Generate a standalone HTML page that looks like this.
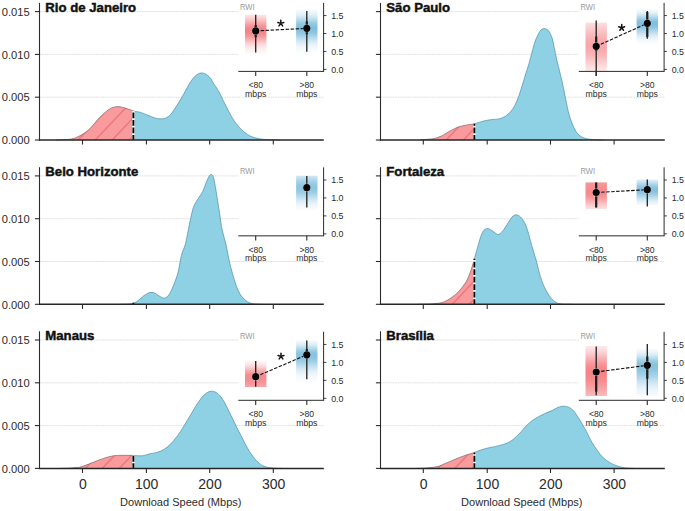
<!DOCTYPE html>
<html><head><meta charset="utf-8"><style>
html,body{margin:0;padding:0;background:#fff;width:685px;height:511px;overflow:hidden}
svg{display:block}
text{font-family:"Liberation Sans",sans-serif}
</style></head><body>
<svg width="685" height="511" viewBox="0 0 685 511">
<defs><clipPath id="crp00"><rect x="0" y="0" width="133.38" height="600"/></clipPath>
<clipPath id="cap00"><path d="M56.00,140.00 C57.17,139.96 60.67,139.88 63.00,139.75 C65.33,139.62 67.87,139.54 70.00,139.20 C72.13,138.86 73.87,138.43 75.80,137.70 C77.73,136.97 79.68,135.92 81.60,134.80 C83.52,133.68 85.53,132.43 87.30,131.00 C89.07,129.57 90.58,127.97 92.20,126.20 C93.82,124.43 95.40,122.17 97.00,120.40 C98.60,118.63 100.20,117.13 101.80,115.60 C103.40,114.07 105.00,112.48 106.60,111.20 C108.20,109.92 109.80,108.65 111.40,107.90 C113.00,107.15 114.58,106.87 116.20,106.70 C117.82,106.53 119.48,106.63 121.10,106.90 C122.72,107.17 124.13,107.73 125.90,108.30 C127.67,108.87 130.02,109.77 131.70,110.30 C133.38,110.83 134.62,111.18 136.00,111.50 C137.38,111.82 138.10,111.62 140.00,112.20 C141.90,112.78 144.92,114.03 147.40,115.00 C149.88,115.97 152.80,117.37 154.90,118.00 C157.00,118.63 158.27,118.77 160.00,118.80 C161.73,118.83 163.53,118.92 165.30,118.20 C167.07,117.48 168.85,116.35 170.60,114.50 C172.35,112.65 174.05,109.75 175.80,107.10 C177.55,104.45 179.33,101.60 181.10,98.60 C182.87,95.60 184.82,91.92 186.40,89.10 C187.98,86.28 189.20,83.82 190.60,81.70 C192.00,79.58 193.53,77.70 194.80,76.40 C196.07,75.10 197.10,74.48 198.20,73.90 C199.30,73.32 200.35,72.97 201.40,72.90 C202.45,72.83 203.48,73.10 204.50,73.50 C205.52,73.90 206.42,74.42 207.50,75.30 C208.58,76.18 210.05,77.53 211.00,78.80 C211.95,80.07 211.95,80.88 213.20,82.90 C214.45,84.92 216.75,87.82 218.50,90.90 C220.25,93.98 221.95,97.90 223.70,101.40 C225.45,104.90 227.25,108.65 229.00,111.90 C230.75,115.15 232.45,118.30 234.20,120.90 C235.95,123.50 237.75,125.57 239.50,127.50 C241.25,129.43 242.95,131.10 244.70,132.50 C246.45,133.90 248.25,135.02 250.00,135.90 C251.75,136.78 253.20,137.25 255.20,137.80 C257.20,138.35 259.53,138.87 262.00,139.20 C264.47,139.53 267.00,139.67 270.00,139.80 C273.00,139.93 278.33,139.97 280.00,140.00 L280.00,140.00 L56.00,140.00 Z"/></clipPath>
<clipPath id="cbp00"><rect x="133.38" y="0" width="700" height="600"/></clipPath>
<linearGradient id="gp00red" x1="0" y1="0" x2="0" y2="1"><stop offset="0.000" stop-color="#f36e73" stop-opacity="0.172"/><stop offset="0.042" stop-color="#f36e73" stop-opacity="0.234"/><stop offset="0.083" stop-color="#f36e73" stop-opacity="0.308"/><stop offset="0.125" stop-color="#f36e73" stop-opacity="0.392"/><stop offset="0.167" stop-color="#f36e73" stop-opacity="0.483"/><stop offset="0.208" stop-color="#f36e73" stop-opacity="0.576"/><stop offset="0.250" stop-color="#f36e73" stop-opacity="0.665"/><stop offset="0.292" stop-color="#f36e73" stop-opacity="0.743"/><stop offset="0.333" stop-color="#f36e73" stop-opacity="0.803"/><stop offset="0.375" stop-color="#f36e73" stop-opacity="0.840"/><stop offset="0.417" stop-color="#f36e73" stop-opacity="0.850"/><stop offset="0.458" stop-color="#f36e73" stop-opacity="0.832"/><stop offset="0.500" stop-color="#f36e73" stop-opacity="0.788"/><stop offset="0.542" stop-color="#f36e73" stop-opacity="0.722"/><stop offset="0.583" stop-color="#f36e73" stop-opacity="0.641"/><stop offset="0.625" stop-color="#f36e73" stop-opacity="0.550"/><stop offset="0.667" stop-color="#f36e73" stop-opacity="0.457"/><stop offset="0.708" stop-color="#f36e73" stop-opacity="0.367"/><stop offset="0.750" stop-color="#f36e73" stop-opacity="0.285"/><stop offset="0.792" stop-color="#f36e73" stop-opacity="0.215"/><stop offset="0.833" stop-color="#f36e73" stop-opacity="0.156"/><stop offset="0.875" stop-color="#f36e73" stop-opacity="0.110"/><stop offset="0.917" stop-color="#f36e73" stop-opacity="0.075"/><stop offset="0.958" stop-color="#f36e73" stop-opacity="0.049"/><stop offset="1.000" stop-color="#f36e73" stop-opacity="0.032"/></linearGradient>
<linearGradient id="gp00blue" x1="0" y1="0" x2="0" y2="1"><stop offset="0.000" stop-color="#4fa6d2" stop-opacity="0.046"/><stop offset="0.042" stop-color="#4fa6d2" stop-opacity="0.078"/><stop offset="0.083" stop-color="#4fa6d2" stop-opacity="0.126"/><stop offset="0.125" stop-color="#4fa6d2" stop-opacity="0.193"/><stop offset="0.167" stop-color="#4fa6d2" stop-opacity="0.277"/><stop offset="0.208" stop-color="#4fa6d2" stop-opacity="0.376"/><stop offset="0.250" stop-color="#4fa6d2" stop-opacity="0.482"/><stop offset="0.292" stop-color="#4fa6d2" stop-opacity="0.581"/><stop offset="0.333" stop-color="#4fa6d2" stop-opacity="0.661"/><stop offset="0.375" stop-color="#4fa6d2" stop-opacity="0.710"/><stop offset="0.417" stop-color="#4fa6d2" stop-opacity="0.719"/><stop offset="0.458" stop-color="#4fa6d2" stop-opacity="0.692"/><stop offset="0.500" stop-color="#4fa6d2" stop-opacity="0.637"/><stop offset="0.542" stop-color="#4fa6d2" stop-opacity="0.560"/><stop offset="0.583" stop-color="#4fa6d2" stop-opacity="0.469"/><stop offset="0.625" stop-color="#4fa6d2" stop-opacity="0.376"/><stop offset="0.667" stop-color="#4fa6d2" stop-opacity="0.287"/><stop offset="0.708" stop-color="#4fa6d2" stop-opacity="0.210"/><stop offset="0.750" stop-color="#4fa6d2" stop-opacity="0.146"/><stop offset="0.792" stop-color="#4fa6d2" stop-opacity="0.097"/><stop offset="0.833" stop-color="#4fa6d2" stop-opacity="0.062"/><stop offset="0.875" stop-color="#4fa6d2" stop-opacity="0.037"/><stop offset="0.917" stop-color="#4fa6d2" stop-opacity="0.022"/><stop offset="0.958" stop-color="#4fa6d2" stop-opacity="0.012"/><stop offset="1.000" stop-color="#4fa6d2" stop-opacity="0.006"/></linearGradient>
<clipPath id="crp10"><rect x="0" y="0" width="474.38" height="600"/></clipPath>
<clipPath id="cap10"><path d="M420.00,140.00 C421.47,139.85 426.37,139.37 428.80,139.10 C431.23,138.83 432.42,138.95 434.60,138.40 C436.78,137.85 439.47,136.97 441.90,135.80 C444.33,134.63 446.77,132.75 449.20,131.40 C451.63,130.05 454.07,128.68 456.50,127.70 C458.93,126.72 461.62,126.03 463.80,125.50 C465.98,124.97 467.85,124.78 469.60,124.50 C471.35,124.22 471.95,124.38 474.30,123.80 C476.65,123.22 481.00,121.68 483.70,121.00 C486.40,120.32 487.98,120.05 490.50,119.70 C493.02,119.35 496.52,119.37 498.80,118.90 C501.08,118.43 502.83,117.55 504.20,116.90 C505.57,116.25 506.08,115.72 507.00,115.00 C507.92,114.28 508.57,113.90 509.70,112.60 C510.83,111.30 512.43,109.57 513.80,107.20 C515.17,104.83 516.53,101.93 517.90,98.40 C519.27,94.87 520.62,90.35 522.00,86.00 C523.38,81.65 524.93,76.38 526.20,72.30 C527.47,68.22 528.52,65.32 529.60,61.50 C530.68,57.68 531.68,53.02 532.70,49.40 C533.72,45.78 534.55,42.75 535.70,39.80 C536.85,36.85 538.52,33.48 539.60,31.70 C540.68,29.92 541.38,29.62 542.20,29.10 C543.02,28.58 543.73,28.57 544.50,28.60 C545.27,28.63 545.98,28.75 546.80,29.30 C547.62,29.85 548.48,30.35 549.40,31.90 C550.32,33.45 551.48,35.92 552.30,38.60 C553.12,41.28 553.58,44.60 554.30,48.00 C555.02,51.40 555.78,55.40 556.60,59.00 C557.42,62.60 558.18,65.42 559.20,69.60 C560.22,73.78 561.58,79.02 562.70,84.10 C563.82,89.18 564.83,95.02 565.90,100.10 C566.97,105.18 567.90,110.32 569.10,114.60 C570.30,118.88 571.77,122.73 573.10,125.80 C574.43,128.87 575.63,131.13 577.10,133.00 C578.57,134.87 580.03,136.00 581.90,137.00 C583.77,138.00 585.95,138.53 588.30,139.00 C590.65,139.47 593.38,139.63 596.00,139.80 C598.62,139.97 602.67,139.97 604.00,140.00 L604.00,140.00 L420.00,140.00 Z"/></clipPath>
<clipPath id="cbp10"><rect x="474.38" y="0" width="700" height="600"/></clipPath>
<linearGradient id="gp10red" x1="0" y1="0" x2="0" y2="1"><stop offset="0.000" stop-color="#f36e73" stop-opacity="0.227"/><stop offset="0.042" stop-color="#f36e73" stop-opacity="0.266"/><stop offset="0.083" stop-color="#f36e73" stop-opacity="0.307"/><stop offset="0.125" stop-color="#f36e73" stop-opacity="0.350"/><stop offset="0.167" stop-color="#f36e73" stop-opacity="0.393"/><stop offset="0.208" stop-color="#f36e73" stop-opacity="0.435"/><stop offset="0.250" stop-color="#f36e73" stop-opacity="0.475"/><stop offset="0.292" stop-color="#f36e73" stop-opacity="0.512"/><stop offset="0.333" stop-color="#f36e73" stop-opacity="0.543"/><stop offset="0.375" stop-color="#f36e73" stop-opacity="0.569"/><stop offset="0.417" stop-color="#f36e73" stop-opacity="0.587"/><stop offset="0.458" stop-color="#f36e73" stop-opacity="0.598"/><stop offset="0.500" stop-color="#f36e73" stop-opacity="0.600"/><stop offset="0.542" stop-color="#f36e73" stop-opacity="0.592"/><stop offset="0.583" stop-color="#f36e73" stop-opacity="0.573"/><stop offset="0.625" stop-color="#f36e73" stop-opacity="0.545"/><stop offset="0.667" stop-color="#f36e73" stop-opacity="0.510"/><stop offset="0.708" stop-color="#f36e73" stop-opacity="0.468"/><stop offset="0.750" stop-color="#f36e73" stop-opacity="0.422"/><stop offset="0.792" stop-color="#f36e73" stop-opacity="0.373"/><stop offset="0.833" stop-color="#f36e73" stop-opacity="0.324"/><stop offset="0.875" stop-color="#f36e73" stop-opacity="0.277"/><stop offset="0.917" stop-color="#f36e73" stop-opacity="0.232"/><stop offset="0.958" stop-color="#f36e73" stop-opacity="0.191"/><stop offset="1.000" stop-color="#f36e73" stop-opacity="0.155"/></linearGradient>
<linearGradient id="gp10blue" x1="0" y1="0" x2="0" y2="1"><stop offset="0.000" stop-color="#4fa6d2" stop-opacity="0.051"/><stop offset="0.042" stop-color="#4fa6d2" stop-opacity="0.086"/><stop offset="0.083" stop-color="#4fa6d2" stop-opacity="0.137"/><stop offset="0.125" stop-color="#4fa6d2" stop-opacity="0.206"/><stop offset="0.167" stop-color="#4fa6d2" stop-opacity="0.293"/><stop offset="0.208" stop-color="#4fa6d2" stop-opacity="0.392"/><stop offset="0.250" stop-color="#4fa6d2" stop-opacity="0.496"/><stop offset="0.292" stop-color="#4fa6d2" stop-opacity="0.593"/><stop offset="0.333" stop-color="#4fa6d2" stop-opacity="0.669"/><stop offset="0.375" stop-color="#4fa6d2" stop-opacity="0.713"/><stop offset="0.417" stop-color="#4fa6d2" stop-opacity="0.718"/><stop offset="0.458" stop-color="#4fa6d2" stop-opacity="0.698"/><stop offset="0.500" stop-color="#4fa6d2" stop-opacity="0.656"/><stop offset="0.542" stop-color="#4fa6d2" stop-opacity="0.597"/><stop offset="0.583" stop-color="#4fa6d2" stop-opacity="0.527"/><stop offset="0.625" stop-color="#4fa6d2" stop-opacity="0.450"/><stop offset="0.667" stop-color="#4fa6d2" stop-opacity="0.372"/><stop offset="0.708" stop-color="#4fa6d2" stop-opacity="0.297"/><stop offset="0.750" stop-color="#4fa6d2" stop-opacity="0.230"/><stop offset="0.792" stop-color="#4fa6d2" stop-opacity="0.173"/><stop offset="0.833" stop-color="#4fa6d2" stop-opacity="0.126"/><stop offset="0.875" stop-color="#4fa6d2" stop-opacity="0.088"/><stop offset="0.917" stop-color="#4fa6d2" stop-opacity="0.060"/><stop offset="0.958" stop-color="#4fa6d2" stop-opacity="0.040"/><stop offset="1.000" stop-color="#4fa6d2" stop-opacity="0.025"/></linearGradient>
<clipPath id="crp01"><rect x="0" y="0" width="133.38" height="600"/></clipPath>
<clipPath id="cap01"><path d="M120.00,304.30 C121.33,304.28 125.77,304.31 128.00,304.15 C130.23,303.99 131.62,304.02 133.40,303.35 C135.18,302.68 137.03,301.37 138.70,300.15 C140.37,298.93 141.85,297.22 143.40,296.05 C144.95,294.88 146.73,293.77 148.00,293.15 C149.27,292.53 149.83,292.35 151.00,292.35 C152.17,292.35 153.55,292.50 155.00,293.15 C156.45,293.80 158.23,295.42 159.70,296.25 C161.17,297.08 162.43,298.18 163.80,298.15 C165.17,298.12 166.63,297.37 167.90,296.05 C169.17,294.73 170.23,292.62 171.40,290.25 C172.57,287.88 173.73,285.08 174.90,281.85 C176.07,278.62 177.32,275.27 178.40,270.85 C179.48,266.43 180.25,259.77 181.40,255.35 C182.55,250.93 184.15,248.60 185.30,244.35 C186.45,240.10 187.30,234.68 188.30,229.85 C189.30,225.02 190.33,219.40 191.30,215.35 C192.27,211.30 192.85,208.50 194.10,205.55 C195.35,202.60 197.37,200.00 198.80,197.65 C200.23,195.30 201.53,193.80 202.70,191.45 C203.87,189.10 204.78,186.00 205.80,183.55 C206.82,181.10 207.93,178.27 208.80,176.75 C209.67,175.23 210.27,174.48 211.00,174.45 C211.73,174.42 212.57,175.03 213.20,176.55 C213.83,178.07 214.13,180.03 214.80,183.55 C215.47,187.07 216.40,192.68 217.20,197.65 C218.00,202.62 218.80,208.12 219.60,213.35 C220.40,218.58 220.90,223.72 222.00,229.05 C223.10,234.38 225.02,240.17 226.20,245.35 C227.38,250.53 227.98,255.22 229.10,260.15 C230.22,265.08 231.53,270.25 232.90,274.95 C234.27,279.65 235.82,284.75 237.30,288.35 C238.78,291.95 240.07,294.32 241.80,296.55 C243.53,298.78 245.72,300.53 247.70,301.75 C249.68,302.97 251.32,303.43 253.70,303.85 C256.08,304.28 260.62,304.23 262.00,304.30 L262.00,304.30 L120.00,304.30 Z"/></clipPath>
<clipPath id="cbp01"><rect x="133.38" y="0" width="700" height="600"/></clipPath>
<linearGradient id="gp01blue" x1="0" y1="0" x2="0" y2="1"><stop offset="0.000" stop-color="#4fa6d2" stop-opacity="0.263"/><stop offset="0.042" stop-color="#4fa6d2" stop-opacity="0.321"/><stop offset="0.083" stop-color="#4fa6d2" stop-opacity="0.382"/><stop offset="0.125" stop-color="#4fa6d2" stop-opacity="0.443"/><stop offset="0.167" stop-color="#4fa6d2" stop-opacity="0.502"/><stop offset="0.208" stop-color="#4fa6d2" stop-opacity="0.553"/><stop offset="0.250" stop-color="#4fa6d2" stop-opacity="0.595"/><stop offset="0.292" stop-color="#4fa6d2" stop-opacity="0.624"/><stop offset="0.333" stop-color="#4fa6d2" stop-opacity="0.639"/><stop offset="0.375" stop-color="#4fa6d2" stop-opacity="0.637"/><stop offset="0.417" stop-color="#4fa6d2" stop-opacity="0.620"/><stop offset="0.458" stop-color="#4fa6d2" stop-opacity="0.588"/><stop offset="0.500" stop-color="#4fa6d2" stop-opacity="0.543"/><stop offset="0.542" stop-color="#4fa6d2" stop-opacity="0.490"/><stop offset="0.583" stop-color="#4fa6d2" stop-opacity="0.431"/><stop offset="0.625" stop-color="#4fa6d2" stop-opacity="0.369"/><stop offset="0.667" stop-color="#4fa6d2" stop-opacity="0.309"/><stop offset="0.708" stop-color="#4fa6d2" stop-opacity="0.252"/><stop offset="0.750" stop-color="#4fa6d2" stop-opacity="0.200"/><stop offset="0.792" stop-color="#4fa6d2" stop-opacity="0.155"/><stop offset="0.833" stop-color="#4fa6d2" stop-opacity="0.117"/><stop offset="0.875" stop-color="#4fa6d2" stop-opacity="0.086"/><stop offset="0.917" stop-color="#4fa6d2" stop-opacity="0.062"/><stop offset="0.958" stop-color="#4fa6d2" stop-opacity="0.043"/><stop offset="1.000" stop-color="#4fa6d2" stop-opacity="0.030"/></linearGradient>
<clipPath id="crp11"><rect x="0" y="0" width="474.38" height="600"/></clipPath>
<clipPath id="cap11"><path d="M418.00,304.30 C420.00,304.24 426.33,304.18 430.00,303.95 C433.67,303.73 437.33,303.45 440.00,302.95 C442.67,302.45 444.00,301.90 446.00,300.95 C448.00,300.00 450.00,298.70 452.00,297.25 C454.00,295.80 456.17,294.08 458.00,292.25 C459.83,290.42 461.52,288.23 463.00,286.25 C464.48,284.27 465.75,282.50 466.90,280.35 C468.05,278.20 469.07,275.52 469.90,273.35 C470.73,271.18 471.20,269.63 471.90,267.35 C472.60,265.07 473.17,262.93 474.10,259.65 C475.03,256.37 476.40,251.48 477.50,247.65 C478.60,243.82 479.65,239.53 480.70,236.65 C481.75,233.77 482.63,231.70 483.80,230.35 C484.97,229.00 486.40,228.55 487.70,228.55 C489.00,228.55 490.17,229.48 491.60,230.35 C493.03,231.22 495.12,233.08 496.30,233.75 C497.48,234.42 497.65,234.78 498.70,234.35 C499.75,233.92 501.17,232.85 502.60,231.15 C504.03,229.45 505.73,226.50 507.30,224.15 C508.87,221.80 510.50,218.62 512.00,217.05 C513.50,215.48 514.87,214.75 516.30,214.75 C517.73,214.75 519.23,215.75 520.60,217.05 C521.97,218.35 523.33,220.33 524.50,222.55 C525.67,224.77 526.40,226.55 527.60,230.35 C528.80,234.15 530.28,240.40 531.70,245.35 C533.12,250.30 534.73,255.12 536.10,260.05 C537.47,264.98 538.53,270.48 539.90,274.95 C541.27,279.42 542.57,283.13 544.30,286.85 C546.03,290.57 548.32,294.65 550.30,297.25 C552.28,299.85 554.23,301.33 556.20,302.45 C558.17,303.57 559.47,303.64 562.10,303.95 C564.73,304.26 570.35,304.24 572.00,304.30 L572.00,304.30 L418.00,304.30 Z"/></clipPath>
<clipPath id="cbp11"><rect x="474.38" y="0" width="700" height="600"/></clipPath>
<linearGradient id="gp11red" x1="0" y1="0" x2="0" y2="1"><stop offset="0.000" stop-color="#f36e73" stop-opacity="0.704"/><stop offset="0.042" stop-color="#f36e73" stop-opacity="0.723"/><stop offset="0.083" stop-color="#f36e73" stop-opacity="0.740"/><stop offset="0.125" stop-color="#f36e73" stop-opacity="0.755"/><stop offset="0.167" stop-color="#f36e73" stop-opacity="0.769"/><stop offset="0.208" stop-color="#f36e73" stop-opacity="0.779"/><stop offset="0.250" stop-color="#f36e73" stop-opacity="0.788"/><stop offset="0.292" stop-color="#f36e73" stop-opacity="0.795"/><stop offset="0.333" stop-color="#f36e73" stop-opacity="0.798"/><stop offset="0.375" stop-color="#f36e73" stop-opacity="0.800"/><stop offset="0.417" stop-color="#f36e73" stop-opacity="0.796"/><stop offset="0.458" stop-color="#f36e73" stop-opacity="0.783"/><stop offset="0.500" stop-color="#f36e73" stop-opacity="0.760"/><stop offset="0.542" stop-color="#f36e73" stop-opacity="0.729"/><stop offset="0.583" stop-color="#f36e73" stop-opacity="0.691"/><stop offset="0.625" stop-color="#f36e73" stop-opacity="0.647"/><stop offset="0.667" stop-color="#f36e73" stop-opacity="0.598"/><stop offset="0.708" stop-color="#f36e73" stop-opacity="0.546"/><stop offset="0.750" stop-color="#f36e73" stop-opacity="0.493"/><stop offset="0.792" stop-color="#f36e73" stop-opacity="0.439"/><stop offset="0.833" stop-color="#f36e73" stop-opacity="0.386"/><stop offset="0.875" stop-color="#f36e73" stop-opacity="0.336"/><stop offset="0.917" stop-color="#f36e73" stop-opacity="0.288"/><stop offset="0.958" stop-color="#f36e73" stop-opacity="0.245"/><stop offset="1.000" stop-color="#f36e73" stop-opacity="0.205"/></linearGradient>
<linearGradient id="gp11blue" x1="0" y1="0" x2="0" y2="1"><stop offset="0.000" stop-color="#4fa6d2" stop-opacity="0.165"/><stop offset="0.042" stop-color="#4fa6d2" stop-opacity="0.220"/><stop offset="0.083" stop-color="#4fa6d2" stop-opacity="0.283"/><stop offset="0.125" stop-color="#4fa6d2" stop-opacity="0.354"/><stop offset="0.167" stop-color="#4fa6d2" stop-opacity="0.428"/><stop offset="0.208" stop-color="#4fa6d2" stop-opacity="0.502"/><stop offset="0.250" stop-color="#4fa6d2" stop-opacity="0.571"/><stop offset="0.292" stop-color="#4fa6d2" stop-opacity="0.630"/><stop offset="0.333" stop-color="#4fa6d2" stop-opacity="0.672"/><stop offset="0.375" stop-color="#4fa6d2" stop-opacity="0.696"/><stop offset="0.417" stop-color="#4fa6d2" stop-opacity="0.699"/><stop offset="0.458" stop-color="#4fa6d2" stop-opacity="0.684"/><stop offset="0.500" stop-color="#4fa6d2" stop-opacity="0.655"/><stop offset="0.542" stop-color="#4fa6d2" stop-opacity="0.613"/><stop offset="0.583" stop-color="#4fa6d2" stop-opacity="0.560"/><stop offset="0.625" stop-color="#4fa6d2" stop-opacity="0.500"/><stop offset="0.667" stop-color="#4fa6d2" stop-opacity="0.437"/><stop offset="0.708" stop-color="#4fa6d2" stop-opacity="0.373"/><stop offset="0.750" stop-color="#4fa6d2" stop-opacity="0.311"/><stop offset="0.792" stop-color="#4fa6d2" stop-opacity="0.253"/><stop offset="0.833" stop-color="#4fa6d2" stop-opacity="0.201"/><stop offset="0.875" stop-color="#4fa6d2" stop-opacity="0.157"/><stop offset="0.917" stop-color="#4fa6d2" stop-opacity="0.119"/><stop offset="0.958" stop-color="#4fa6d2" stop-opacity="0.088"/><stop offset="1.000" stop-color="#4fa6d2" stop-opacity="0.064"/></linearGradient>
<clipPath id="crp02"><rect x="0" y="0" width="133.38" height="600"/></clipPath>
<clipPath id="cap02"><path d="M60.00,468.40 C61.75,468.33 67.83,468.13 70.50,468.00 C73.17,467.87 74.42,467.75 76.00,467.60 C77.58,467.45 77.87,467.68 80.00,467.10 C82.13,466.52 85.88,465.18 88.80,464.10 C91.72,463.02 94.58,461.70 97.50,460.60 C100.42,459.50 103.67,458.30 106.30,457.50 C108.93,456.70 111.18,456.15 113.30,455.80 C115.42,455.45 116.88,455.48 119.00,455.40 C121.12,455.32 123.57,455.30 126.00,455.30 C128.43,455.30 130.88,455.32 133.60,455.40 C136.32,455.48 139.57,456.08 142.30,455.80 C145.03,455.52 147.58,454.27 150.00,453.70 C152.42,453.13 154.52,453.08 156.80,452.40 C159.08,451.72 161.42,450.98 163.70,449.60 C165.98,448.22 168.22,446.38 170.50,444.10 C172.78,441.82 175.33,438.63 177.40,435.90 C179.47,433.17 181.30,430.22 182.90,427.70 C184.50,425.18 185.63,423.08 187.00,420.80 C188.37,418.52 189.73,416.28 191.10,414.00 C192.47,411.72 193.83,409.30 195.20,407.10 C196.57,404.90 197.92,402.72 199.30,400.80 C200.68,398.88 202.02,397.07 203.50,395.60 C204.98,394.13 206.83,392.73 208.20,392.00 C209.57,391.27 210.53,391.20 211.70,391.20 C212.87,391.20 213.83,391.27 215.20,392.00 C216.57,392.73 218.33,393.83 219.90,395.60 C221.47,397.37 223.03,399.87 224.60,402.60 C226.17,405.33 227.73,408.83 229.30,412.00 C230.87,415.17 232.55,418.63 234.00,421.60 C235.45,424.57 236.72,427.25 238.00,429.80 C239.28,432.35 240.42,434.40 241.70,436.90 C242.98,439.40 244.38,442.35 245.70,444.80 C247.02,447.25 248.13,449.32 249.60,451.60 C251.07,453.88 252.87,456.53 254.50,458.50 C256.13,460.47 257.78,462.10 259.40,463.40 C261.02,464.70 262.25,465.57 264.20,466.30 C266.15,467.03 268.13,467.45 271.10,467.80 C274.07,468.15 280.18,468.30 282.00,468.40 L282.00,468.40 L60.00,468.40 Z"/></clipPath>
<clipPath id="cbp02"><rect x="133.38" y="0" width="700" height="600"/></clipPath>
<linearGradient id="gp02red" x1="0" y1="0" x2="0" y2="1"><stop offset="0.000" stop-color="#f36e73" stop-opacity="0.055"/><stop offset="0.042" stop-color="#f36e73" stop-opacity="0.078"/><stop offset="0.083" stop-color="#f36e73" stop-opacity="0.109"/><stop offset="0.125" stop-color="#f36e73" stop-opacity="0.147"/><stop offset="0.167" stop-color="#f36e73" stop-opacity="0.194"/><stop offset="0.208" stop-color="#f36e73" stop-opacity="0.250"/><stop offset="0.250" stop-color="#f36e73" stop-opacity="0.314"/><stop offset="0.292" stop-color="#f36e73" stop-opacity="0.385"/><stop offset="0.333" stop-color="#f36e73" stop-opacity="0.460"/><stop offset="0.375" stop-color="#f36e73" stop-opacity="0.536"/><stop offset="0.417" stop-color="#f36e73" stop-opacity="0.610"/><stop offset="0.458" stop-color="#f36e73" stop-opacity="0.676"/><stop offset="0.500" stop-color="#f36e73" stop-opacity="0.732"/><stop offset="0.542" stop-color="#f36e73" stop-opacity="0.773"/><stop offset="0.583" stop-color="#f36e73" stop-opacity="0.796"/><stop offset="0.625" stop-color="#f36e73" stop-opacity="0.800"/><stop offset="0.667" stop-color="#f36e73" stop-opacity="0.796"/><stop offset="0.708" stop-color="#f36e73" stop-opacity="0.787"/><stop offset="0.750" stop-color="#f36e73" stop-opacity="0.773"/><stop offset="0.792" stop-color="#f36e73" stop-opacity="0.755"/><stop offset="0.833" stop-color="#f36e73" stop-opacity="0.732"/><stop offset="0.875" stop-color="#f36e73" stop-opacity="0.706"/><stop offset="0.917" stop-color="#f36e73" stop-opacity="0.677"/><stop offset="0.958" stop-color="#f36e73" stop-opacity="0.645"/><stop offset="1.000" stop-color="#f36e73" stop-opacity="0.610"/></linearGradient>
<linearGradient id="gp02blue" x1="0" y1="0" x2="0" y2="1"><stop offset="0.000" stop-color="#4fa6d2" stop-opacity="0.060"/><stop offset="0.042" stop-color="#4fa6d2" stop-opacity="0.106"/><stop offset="0.083" stop-color="#4fa6d2" stop-opacity="0.173"/><stop offset="0.125" stop-color="#4fa6d2" stop-opacity="0.261"/><stop offset="0.167" stop-color="#4fa6d2" stop-opacity="0.367"/><stop offset="0.208" stop-color="#4fa6d2" stop-opacity="0.479"/><stop offset="0.250" stop-color="#4fa6d2" stop-opacity="0.580"/><stop offset="0.292" stop-color="#4fa6d2" stop-opacity="0.651"/><stop offset="0.333" stop-color="#4fa6d2" stop-opacity="0.680"/><stop offset="0.375" stop-color="#4fa6d2" stop-opacity="0.671"/><stop offset="0.417" stop-color="#4fa6d2" stop-opacity="0.642"/><stop offset="0.458" stop-color="#4fa6d2" stop-opacity="0.595"/><stop offset="0.500" stop-color="#4fa6d2" stop-opacity="0.534"/><stop offset="0.542" stop-color="#4fa6d2" stop-opacity="0.465"/><stop offset="0.583" stop-color="#4fa6d2" stop-opacity="0.392"/><stop offset="0.625" stop-color="#4fa6d2" stop-opacity="0.321"/><stop offset="0.667" stop-color="#4fa6d2" stop-opacity="0.254"/><stop offset="0.708" stop-color="#4fa6d2" stop-opacity="0.195"/><stop offset="0.750" stop-color="#4fa6d2" stop-opacity="0.145"/><stop offset="0.792" stop-color="#4fa6d2" stop-opacity="0.105"/><stop offset="0.833" stop-color="#4fa6d2" stop-opacity="0.073"/><stop offset="0.875" stop-color="#4fa6d2" stop-opacity="0.050"/><stop offset="0.917" stop-color="#4fa6d2" stop-opacity="0.033"/><stop offset="0.958" stop-color="#4fa6d2" stop-opacity="0.021"/><stop offset="1.000" stop-color="#4fa6d2" stop-opacity="0.013"/></linearGradient>
<clipPath id="crp12"><rect x="0" y="0" width="474.38" height="600"/></clipPath>
<clipPath id="cap12"><path d="M415.00,468.40 C416.80,468.33 422.08,468.30 425.80,468.00 C429.52,467.70 434.17,467.32 437.30,466.60 C440.43,465.88 442.17,464.68 444.60,463.70 C447.03,462.72 449.47,461.73 451.90,460.70 C454.33,459.67 456.77,458.47 459.20,457.50 C461.63,456.53 464.07,455.70 466.50,454.90 C468.93,454.10 471.33,453.55 473.80,452.70 C476.27,451.85 478.83,450.62 481.30,449.80 C483.77,448.98 486.17,448.37 488.60,447.80 C491.03,447.23 493.47,446.97 495.90,446.40 C498.33,445.83 501.18,445.02 503.20,444.40 C505.22,443.78 506.53,443.38 508.00,442.70 C509.47,442.02 510.60,441.33 512.00,440.30 C513.40,439.27 515.07,437.73 516.40,436.50 C517.73,435.27 518.38,434.65 520.00,432.90 C521.62,431.15 524.02,428.10 526.10,426.00 C528.18,423.90 530.37,421.88 532.50,420.30 C534.63,418.72 536.77,417.67 538.90,416.50 C541.03,415.33 543.15,414.28 545.30,413.30 C547.45,412.32 549.65,411.60 551.80,410.60 C553.95,409.60 556.33,408.03 558.20,407.30 C560.07,406.57 561.40,406.27 563.00,406.20 C564.60,406.13 566.20,406.30 567.80,406.90 C569.40,407.50 571.00,408.25 572.60,409.80 C574.20,411.35 575.78,413.80 577.40,416.20 C579.02,418.60 580.82,421.68 582.30,424.20 C583.78,426.72 584.70,428.28 586.30,431.30 C587.90,434.32 590.02,439.05 591.90,442.30 C593.78,445.55 595.72,448.23 597.60,450.80 C599.48,453.37 601.08,455.68 603.20,457.70 C605.32,459.72 607.95,461.53 610.30,462.90 C612.65,464.27 614.95,465.10 617.30,465.90 C619.65,466.70 621.62,467.28 624.40,467.70 C627.18,468.12 632.40,468.28 634.00,468.40 L634.00,468.40 L415.00,468.40 Z"/></clipPath>
<clipPath id="cbp12"><rect x="474.38" y="0" width="700" height="600"/></clipPath>
<linearGradient id="gp12red" x1="0" y1="0" x2="0" y2="1"><stop offset="0.000" stop-color="#f36e73" stop-opacity="0.152"/><stop offset="0.042" stop-color="#f36e73" stop-opacity="0.198"/><stop offset="0.083" stop-color="#f36e73" stop-opacity="0.252"/><stop offset="0.125" stop-color="#f36e73" stop-opacity="0.314"/><stop offset="0.167" stop-color="#f36e73" stop-opacity="0.383"/><stop offset="0.208" stop-color="#f36e73" stop-opacity="0.457"/><stop offset="0.250" stop-color="#f36e73" stop-opacity="0.534"/><stop offset="0.292" stop-color="#f36e73" stop-opacity="0.610"/><stop offset="0.333" stop-color="#f36e73" stop-opacity="0.681"/><stop offset="0.375" stop-color="#f36e73" stop-opacity="0.743"/><stop offset="0.417" stop-color="#f36e73" stop-opacity="0.794"/><stop offset="0.458" stop-color="#f36e73" stop-opacity="0.830"/><stop offset="0.500" stop-color="#f36e73" stop-opacity="0.848"/><stop offset="0.542" stop-color="#f36e73" stop-opacity="0.849"/><stop offset="0.583" stop-color="#f36e73" stop-opacity="0.841"/><stop offset="0.625" stop-color="#f36e73" stop-opacity="0.826"/><stop offset="0.667" stop-color="#f36e73" stop-opacity="0.804"/><stop offset="0.708" stop-color="#f36e73" stop-opacity="0.776"/><stop offset="0.750" stop-color="#f36e73" stop-opacity="0.741"/><stop offset="0.792" stop-color="#f36e73" stop-opacity="0.702"/><stop offset="0.833" stop-color="#f36e73" stop-opacity="0.660"/><stop offset="0.875" stop-color="#f36e73" stop-opacity="0.614"/><stop offset="0.917" stop-color="#f36e73" stop-opacity="0.566"/><stop offset="0.958" stop-color="#f36e73" stop-opacity="0.518"/><stop offset="1.000" stop-color="#f36e73" stop-opacity="0.469"/></linearGradient>
<linearGradient id="gp12blue" x1="0" y1="0" x2="0" y2="1"><stop offset="0.000" stop-color="#4fa6d2" stop-opacity="0.045"/><stop offset="0.042" stop-color="#4fa6d2" stop-opacity="0.083"/><stop offset="0.083" stop-color="#4fa6d2" stop-opacity="0.142"/><stop offset="0.125" stop-color="#4fa6d2" stop-opacity="0.224"/><stop offset="0.167" stop-color="#4fa6d2" stop-opacity="0.327"/><stop offset="0.208" stop-color="#4fa6d2" stop-opacity="0.441"/><stop offset="0.250" stop-color="#4fa6d2" stop-opacity="0.551"/><stop offset="0.292" stop-color="#4fa6d2" stop-opacity="0.635"/><stop offset="0.333" stop-color="#4fa6d2" stop-opacity="0.677"/><stop offset="0.375" stop-color="#4fa6d2" stop-opacity="0.676"/><stop offset="0.417" stop-color="#4fa6d2" stop-opacity="0.659"/><stop offset="0.458" stop-color="#4fa6d2" stop-opacity="0.627"/><stop offset="0.500" stop-color="#4fa6d2" stop-opacity="0.583"/><stop offset="0.542" stop-color="#4fa6d2" stop-opacity="0.531"/><stop offset="0.583" stop-color="#4fa6d2" stop-opacity="0.472"/><stop offset="0.625" stop-color="#4fa6d2" stop-opacity="0.410"/><stop offset="0.667" stop-color="#4fa6d2" stop-opacity="0.348"/><stop offset="0.708" stop-color="#4fa6d2" stop-opacity="0.289"/><stop offset="0.750" stop-color="#4fa6d2" stop-opacity="0.235"/><stop offset="0.792" stop-color="#4fa6d2" stop-opacity="0.187"/><stop offset="0.833" stop-color="#4fa6d2" stop-opacity="0.145"/><stop offset="0.875" stop-color="#4fa6d2" stop-opacity="0.110"/><stop offset="0.917" stop-color="#4fa6d2" stop-opacity="0.081"/><stop offset="0.958" stop-color="#4fa6d2" stop-opacity="0.059"/><stop offset="1.000" stop-color="#4fa6d2" stop-opacity="0.042"/></linearGradient></defs>
<rect width="685" height="511" fill="#fff"/>
<line x1="40.0" y1="97.20" x2="323.8" y2="97.20" stroke="#d3d3d3" stroke-width="0.8" stroke-dasharray="1.1,0.6"/>
<line x1="40.0" y1="54.40" x2="323.8" y2="54.40" stroke="#d3d3d3" stroke-width="0.8" stroke-dasharray="1.1,0.6"/>
<line x1="40.0" y1="11.60" x2="323.8" y2="11.60" stroke="#d3d3d3" stroke-width="0.8" stroke-dasharray="1.1,0.6"/>
<path d="M56.00,140.00 C57.17,139.96 60.67,139.88 63.00,139.75 C65.33,139.62 67.87,139.54 70.00,139.20 C72.13,138.86 73.87,138.43 75.80,137.70 C77.73,136.97 79.68,135.92 81.60,134.80 C83.52,133.68 85.53,132.43 87.30,131.00 C89.07,129.57 90.58,127.97 92.20,126.20 C93.82,124.43 95.40,122.17 97.00,120.40 C98.60,118.63 100.20,117.13 101.80,115.60 C103.40,114.07 105.00,112.48 106.60,111.20 C108.20,109.92 109.80,108.65 111.40,107.90 C113.00,107.15 114.58,106.87 116.20,106.70 C117.82,106.53 119.48,106.63 121.10,106.90 C122.72,107.17 124.13,107.73 125.90,108.30 C127.67,108.87 130.02,109.77 131.70,110.30 C133.38,110.83 134.62,111.18 136.00,111.50 C137.38,111.82 138.10,111.62 140.00,112.20 C141.90,112.78 144.92,114.03 147.40,115.00 C149.88,115.97 152.80,117.37 154.90,118.00 C157.00,118.63 158.27,118.77 160.00,118.80 C161.73,118.83 163.53,118.92 165.30,118.20 C167.07,117.48 168.85,116.35 170.60,114.50 C172.35,112.65 174.05,109.75 175.80,107.10 C177.55,104.45 179.33,101.60 181.10,98.60 C182.87,95.60 184.82,91.92 186.40,89.10 C187.98,86.28 189.20,83.82 190.60,81.70 C192.00,79.58 193.53,77.70 194.80,76.40 C196.07,75.10 197.10,74.48 198.20,73.90 C199.30,73.32 200.35,72.97 201.40,72.90 C202.45,72.83 203.48,73.10 204.50,73.50 C205.52,73.90 206.42,74.42 207.50,75.30 C208.58,76.18 210.05,77.53 211.00,78.80 C211.95,80.07 211.95,80.88 213.20,82.90 C214.45,84.92 216.75,87.82 218.50,90.90 C220.25,93.98 221.95,97.90 223.70,101.40 C225.45,104.90 227.25,108.65 229.00,111.90 C230.75,115.15 232.45,118.30 234.20,120.90 C235.95,123.50 237.75,125.57 239.50,127.50 C241.25,129.43 242.95,131.10 244.70,132.50 C246.45,133.90 248.25,135.02 250.00,135.90 C251.75,136.78 253.20,137.25 255.20,137.80 C257.20,138.35 259.53,138.87 262.00,139.20 C264.47,139.53 267.00,139.67 270.00,139.80 C273.00,139.93 278.33,139.97 280.00,140.00 L280.00,140.00 L56.00,140.00 Z" fill="#8ed0e4"/>
<g clip-path="url(#crp00)"><path d="M56.00,140.00 C57.17,139.96 60.67,139.88 63.00,139.75 C65.33,139.62 67.87,139.54 70.00,139.20 C72.13,138.86 73.87,138.43 75.80,137.70 C77.73,136.97 79.68,135.92 81.60,134.80 C83.52,133.68 85.53,132.43 87.30,131.00 C89.07,129.57 90.58,127.97 92.20,126.20 C93.82,124.43 95.40,122.17 97.00,120.40 C98.60,118.63 100.20,117.13 101.80,115.60 C103.40,114.07 105.00,112.48 106.60,111.20 C108.20,109.92 109.80,108.65 111.40,107.90 C113.00,107.15 114.58,106.87 116.20,106.70 C117.82,106.53 119.48,106.63 121.10,106.90 C122.72,107.17 124.13,107.73 125.90,108.30 C127.67,108.87 130.02,109.77 131.70,110.30 C133.38,110.83 134.62,111.18 136.00,111.50 C137.38,111.82 138.10,111.62 140.00,112.20 C141.90,112.78 144.92,114.03 147.40,115.00 C149.88,115.97 152.80,117.37 154.90,118.00 C157.00,118.63 158.27,118.77 160.00,118.80 C161.73,118.83 163.53,118.92 165.30,118.20 C167.07,117.48 168.85,116.35 170.60,114.50 C172.35,112.65 174.05,109.75 175.80,107.10 C177.55,104.45 179.33,101.60 181.10,98.60 C182.87,95.60 184.82,91.92 186.40,89.10 C187.98,86.28 189.20,83.82 190.60,81.70 C192.00,79.58 193.53,77.70 194.80,76.40 C196.07,75.10 197.10,74.48 198.20,73.90 C199.30,73.32 200.35,72.97 201.40,72.90 C202.45,72.83 203.48,73.10 204.50,73.50 C205.52,73.90 206.42,74.42 207.50,75.30 C208.58,76.18 210.05,77.53 211.00,78.80 C211.95,80.07 211.95,80.88 213.20,82.90 C214.45,84.92 216.75,87.82 218.50,90.90 C220.25,93.98 221.95,97.90 223.70,101.40 C225.45,104.90 227.25,108.65 229.00,111.90 C230.75,115.15 232.45,118.30 234.20,120.90 C235.95,123.50 237.75,125.57 239.50,127.50 C241.25,129.43 242.95,131.10 244.70,132.50 C246.45,133.90 248.25,135.02 250.00,135.90 C251.75,136.78 253.20,137.25 255.20,137.80 C257.20,138.35 259.53,138.87 262.00,139.20 C264.47,139.53 267.00,139.67 270.00,139.80 C273.00,139.93 278.33,139.97 280.00,140.00 L280.00,140.00 L56.00,140.00 Z" fill="#f99a9c"/>
<g clip-path="url(#cap00)">
<line x1="-8.8" y1="142.1" x2="69.2" y2="60.0" stroke="#e0606b" stroke-width="1.4" stroke-opacity="0.6"/>
<line x1="8.2" y1="142.1" x2="86.2" y2="60.0" stroke="#e0606b" stroke-width="1.4" stroke-opacity="0.6"/>
<line x1="25.2" y1="142.1" x2="103.2" y2="60.0" stroke="#e0606b" stroke-width="1.4" stroke-opacity="0.6"/>
<line x1="42.2" y1="142.1" x2="120.2" y2="60.0" stroke="#e0606b" stroke-width="1.4" stroke-opacity="0.6"/>
<line x1="59.2" y1="142.1" x2="137.2" y2="60.0" stroke="#e0606b" stroke-width="1.4" stroke-opacity="0.6"/>
<line x1="76.2" y1="142.1" x2="154.2" y2="60.0" stroke="#e0606b" stroke-width="1.4" stroke-opacity="0.6"/>
<line x1="93.2" y1="142.1" x2="171.2" y2="60.0" stroke="#e0606b" stroke-width="1.4" stroke-opacity="0.6"/>
<line x1="110.2" y1="142.1" x2="188.2" y2="60.0" stroke="#e0606b" stroke-width="1.4" stroke-opacity="0.6"/>
<line x1="127.2" y1="142.1" x2="205.2" y2="60.0" stroke="#e0606b" stroke-width="1.4" stroke-opacity="0.6"/>
<line x1="144.2" y1="142.1" x2="222.2" y2="60.0" stroke="#e0606b" stroke-width="1.4" stroke-opacity="0.6"/>
</g></g>
<path d="M56.00,140.00 C57.17,139.96 60.67,139.88 63.00,139.75 C65.33,139.62 67.87,139.54 70.00,139.20 C72.13,138.86 73.87,138.43 75.80,137.70 C77.73,136.97 79.68,135.92 81.60,134.80 C83.52,133.68 85.53,132.43 87.30,131.00 C89.07,129.57 90.58,127.97 92.20,126.20 C93.82,124.43 95.40,122.17 97.00,120.40 C98.60,118.63 100.20,117.13 101.80,115.60 C103.40,114.07 105.00,112.48 106.60,111.20 C108.20,109.92 109.80,108.65 111.40,107.90 C113.00,107.15 114.58,106.87 116.20,106.70 C117.82,106.53 119.48,106.63 121.10,106.90 C122.72,107.17 124.13,107.73 125.90,108.30 C127.67,108.87 130.02,109.77 131.70,110.30 C133.38,110.83 134.62,111.18 136.00,111.50 C137.38,111.82 138.10,111.62 140.00,112.20 C141.90,112.78 144.92,114.03 147.40,115.00 C149.88,115.97 152.80,117.37 154.90,118.00 C157.00,118.63 158.27,118.77 160.00,118.80 C161.73,118.83 163.53,118.92 165.30,118.20 C167.07,117.48 168.85,116.35 170.60,114.50 C172.35,112.65 174.05,109.75 175.80,107.10 C177.55,104.45 179.33,101.60 181.10,98.60 C182.87,95.60 184.82,91.92 186.40,89.10 C187.98,86.28 189.20,83.82 190.60,81.70 C192.00,79.58 193.53,77.70 194.80,76.40 C196.07,75.10 197.10,74.48 198.20,73.90 C199.30,73.32 200.35,72.97 201.40,72.90 C202.45,72.83 203.48,73.10 204.50,73.50 C205.52,73.90 206.42,74.42 207.50,75.30 C208.58,76.18 210.05,77.53 211.00,78.80 C211.95,80.07 211.95,80.88 213.20,82.90 C214.45,84.92 216.75,87.82 218.50,90.90 C220.25,93.98 221.95,97.90 223.70,101.40 C225.45,104.90 227.25,108.65 229.00,111.90 C230.75,115.15 232.45,118.30 234.20,120.90 C235.95,123.50 237.75,125.57 239.50,127.50 C241.25,129.43 242.95,131.10 244.70,132.50 C246.45,133.90 248.25,135.02 250.00,135.90 C251.75,136.78 253.20,137.25 255.20,137.80 C257.20,138.35 259.53,138.87 262.00,139.20 C264.47,139.53 267.00,139.67 270.00,139.80 C273.00,139.93 278.33,139.97 280.00,140.00" fill="none" stroke="#2f7594" stroke-width="0.9" stroke-opacity="0.6" clip-path="url(#cbp00)"/>
<path d="M56.00,140.00 C57.17,139.96 60.67,139.88 63.00,139.75 C65.33,139.62 67.87,139.54 70.00,139.20 C72.13,138.86 73.87,138.43 75.80,137.70 C77.73,136.97 79.68,135.92 81.60,134.80 C83.52,133.68 85.53,132.43 87.30,131.00 C89.07,129.57 90.58,127.97 92.20,126.20 C93.82,124.43 95.40,122.17 97.00,120.40 C98.60,118.63 100.20,117.13 101.80,115.60 C103.40,114.07 105.00,112.48 106.60,111.20 C108.20,109.92 109.80,108.65 111.40,107.90 C113.00,107.15 114.58,106.87 116.20,106.70 C117.82,106.53 119.48,106.63 121.10,106.90 C122.72,107.17 124.13,107.73 125.90,108.30 C127.67,108.87 130.02,109.77 131.70,110.30 C133.38,110.83 134.62,111.18 136.00,111.50 C137.38,111.82 138.10,111.62 140.00,112.20 C141.90,112.78 144.92,114.03 147.40,115.00 C149.88,115.97 152.80,117.37 154.90,118.00 C157.00,118.63 158.27,118.77 160.00,118.80 C161.73,118.83 163.53,118.92 165.30,118.20 C167.07,117.48 168.85,116.35 170.60,114.50 C172.35,112.65 174.05,109.75 175.80,107.10 C177.55,104.45 179.33,101.60 181.10,98.60 C182.87,95.60 184.82,91.92 186.40,89.10 C187.98,86.28 189.20,83.82 190.60,81.70 C192.00,79.58 193.53,77.70 194.80,76.40 C196.07,75.10 197.10,74.48 198.20,73.90 C199.30,73.32 200.35,72.97 201.40,72.90 C202.45,72.83 203.48,73.10 204.50,73.50 C205.52,73.90 206.42,74.42 207.50,75.30 C208.58,76.18 210.05,77.53 211.00,78.80 C211.95,80.07 211.95,80.88 213.20,82.90 C214.45,84.92 216.75,87.82 218.50,90.90 C220.25,93.98 221.95,97.90 223.70,101.40 C225.45,104.90 227.25,108.65 229.00,111.90 C230.75,115.15 232.45,118.30 234.20,120.90 C235.95,123.50 237.75,125.57 239.50,127.50 C241.25,129.43 242.95,131.10 244.70,132.50 C246.45,133.90 248.25,135.02 250.00,135.90 C251.75,136.78 253.20,137.25 255.20,137.80 C257.20,138.35 259.53,138.87 262.00,139.20 C264.47,139.53 267.00,139.67 270.00,139.80 C273.00,139.93 278.33,139.97 280.00,140.00" fill="none" stroke="#6a5a5a" stroke-width="0.9" stroke-opacity="0.6" clip-path="url(#crp00)"/>
<line x1="133.38" y1="110.77" x2="133.38" y2="140.00" stroke="#fff" stroke-width="2.6"/>
<line x1="133.38" y1="140.00" x2="133.38" y2="110.77" stroke="#000" stroke-width="1.9" stroke-dasharray="5.9,1.6" stroke-dashoffset="0.8"/>
<line x1="39.50" y1="2.90" x2="39.50" y2="140.55" stroke="#2b2b2b" stroke-width="1.1"/>
<line x1="38.95" y1="140.00" x2="323.80" y2="140.00" stroke="#262626" stroke-width="1.45"/>
<line x1="34.90" y1="140.00" x2="39.50" y2="140.00" stroke="#2b2b2b" stroke-width="1.1"/>
<text x="29.6" y="144.25" font-size="11.6" text-anchor="end" fill="#2b2b2b" textLength="27.9" lengthAdjust="spacingAndGlyphs" font-family="Liberation Sans, sans-serif">0.000</text>
<line x1="34.90" y1="97.20" x2="39.50" y2="97.20" stroke="#2b2b2b" stroke-width="1.1"/>
<text x="29.6" y="101.45" font-size="11.6" text-anchor="end" fill="#2b2b2b" textLength="27.9" lengthAdjust="spacingAndGlyphs" font-family="Liberation Sans, sans-serif">0.005</text>
<line x1="34.90" y1="54.40" x2="39.50" y2="54.40" stroke="#2b2b2b" stroke-width="1.1"/>
<text x="29.6" y="58.65" font-size="11.6" text-anchor="end" fill="#2b2b2b" textLength="27.9" lengthAdjust="spacingAndGlyphs" font-family="Liberation Sans, sans-serif">0.010</text>
<line x1="34.90" y1="11.60" x2="39.50" y2="11.60" stroke="#2b2b2b" stroke-width="1.1"/>
<text x="29.6" y="15.85" font-size="11.6" text-anchor="end" fill="#2b2b2b" textLength="27.9" lengthAdjust="spacingAndGlyphs" font-family="Liberation Sans, sans-serif">0.015</text>
<line x1="82.50" y1="140.00" x2="82.50" y2="144.60" stroke="#2b2b2b" stroke-width="1.1"/>
<line x1="146.40" y1="140.00" x2="146.40" y2="144.60" stroke="#2b2b2b" stroke-width="1.1"/>
<line x1="209.70" y1="140.00" x2="209.70" y2="144.60" stroke="#2b2b2b" stroke-width="1.1"/>
<line x1="273.30" y1="140.00" x2="273.30" y2="144.60" stroke="#2b2b2b" stroke-width="1.1"/>
<text x="45.30" y="11.70" font-size="13.2" font-weight="bold" fill="#111" stroke="#111" stroke-width="0.45" font-family="Liberation Sans, sans-serif">Rio de Janeiro</text>
<rect x="238.30" y="0.00" width="85.30" height="71.40" fill="#fff"/>
<rect x="245.00" y="14.80" width="21.4" height="39.20" fill="url(#gp00red)"/>
<rect x="296.10" y="9.50" width="21.4" height="46.50" fill="url(#gp00blue)"/>
<line x1="255.70" y1="30.90" x2="306.80" y2="28.30" stroke="#111" stroke-width="1.1" stroke-dasharray="3.5,1.5"/>
<line x1="255.70" y1="14.70" x2="255.70" y2="52.40" stroke="#1e1e1e" stroke-width="1.3"/>
<line x1="255.70" y1="25.00" x2="255.70" y2="37.30" stroke="#1e1e1e" stroke-width="2.2"/>
<circle cx="255.70" cy="30.90" r="3.9" fill="#fff" fill-opacity="0.6"/>
<circle cx="255.70" cy="30.90" r="3.6" fill="#050505"/>
<line x1="306.80" y1="11.00" x2="306.80" y2="51.80" stroke="#1e1e1e" stroke-width="1.3"/>
<line x1="306.80" y1="21.30" x2="306.80" y2="34.20" stroke="#1e1e1e" stroke-width="2.2"/>
<circle cx="306.80" cy="28.30" r="3.9" fill="#fff" fill-opacity="0.6"/>
<circle cx="306.80" cy="28.30" r="3.6" fill="#050505"/>
<path d="M280.80,23.40L280.80,20.30M280.80,23.40L283.75,22.44M280.80,23.40L282.62,25.91M280.80,23.40L278.98,25.91M280.80,23.40L277.85,22.44" stroke="#111" stroke-width="1.5" stroke-linecap="round" fill="none"/>
<line x1="238.30" y1="71.40" x2="324.10" y2="71.40" stroke="#2b2b2b" stroke-width="1"/>
<line x1="323.60" y1="2.90" x2="323.60" y2="71.40" stroke="#2b2b2b" stroke-width="1"/>
<line x1="323.60" y1="69.40" x2="326.40" y2="69.40" stroke="#2b2b2b" stroke-width="0.9"/>
<text x="331.20" y="72.70" font-size="8.9" fill="#2b2b2b" font-family="Liberation Sans, sans-serif">0.0</text>
<line x1="323.60" y1="51.45" x2="326.40" y2="51.45" stroke="#2b2b2b" stroke-width="0.9"/>
<text x="331.20" y="54.75" font-size="8.9" fill="#2b2b2b" font-family="Liberation Sans, sans-serif">0.5</text>
<line x1="323.60" y1="33.50" x2="326.40" y2="33.50" stroke="#2b2b2b" stroke-width="0.9"/>
<text x="331.20" y="36.80" font-size="8.9" fill="#2b2b2b" font-family="Liberation Sans, sans-serif">1.0</text>
<line x1="323.60" y1="15.55" x2="326.40" y2="15.55" stroke="#2b2b2b" stroke-width="0.9"/>
<text x="331.20" y="18.85" font-size="8.9" fill="#2b2b2b" font-family="Liberation Sans, sans-serif">1.5</text>
<line x1="255.70" y1="71.40" x2="255.70" y2="76.00" stroke="#2b2b2b" stroke-width="1.1"/>
<text x="255.70" y="88.10" font-size="8.6" text-anchor="middle" fill="#2b2b2b" font-family="Liberation Sans, sans-serif">&lt;80</text>
<text x="255.70" y="96.90" font-size="8.7" text-anchor="middle" fill="#2b2b2b" font-family="Liberation Sans, sans-serif">mbps</text>
<line x1="306.80" y1="71.40" x2="306.80" y2="76.00" stroke="#2b2b2b" stroke-width="1.1"/>
<text x="306.80" y="88.10" font-size="8.6" text-anchor="middle" fill="#2b2b2b" font-family="Liberation Sans, sans-serif">&gt;80</text>
<text x="306.80" y="96.90" font-size="8.7" text-anchor="middle" fill="#2b2b2b" font-family="Liberation Sans, sans-serif">mbps</text>
<text x="240.00" y="9.95" font-size="8.4" fill="#9a9a9a" textLength="14.6" lengthAdjust="spacingAndGlyphs" font-family="Liberation Sans, sans-serif">RWI</text>
<line x1="381.0" y1="97.20" x2="664.8" y2="97.20" stroke="#d3d3d3" stroke-width="0.8" stroke-dasharray="1.1,0.6"/>
<line x1="381.0" y1="54.40" x2="664.8" y2="54.40" stroke="#d3d3d3" stroke-width="0.8" stroke-dasharray="1.1,0.6"/>
<line x1="381.0" y1="11.60" x2="664.8" y2="11.60" stroke="#d3d3d3" stroke-width="0.8" stroke-dasharray="1.1,0.6"/>
<path d="M420.00,140.00 C421.47,139.85 426.37,139.37 428.80,139.10 C431.23,138.83 432.42,138.95 434.60,138.40 C436.78,137.85 439.47,136.97 441.90,135.80 C444.33,134.63 446.77,132.75 449.20,131.40 C451.63,130.05 454.07,128.68 456.50,127.70 C458.93,126.72 461.62,126.03 463.80,125.50 C465.98,124.97 467.85,124.78 469.60,124.50 C471.35,124.22 471.95,124.38 474.30,123.80 C476.65,123.22 481.00,121.68 483.70,121.00 C486.40,120.32 487.98,120.05 490.50,119.70 C493.02,119.35 496.52,119.37 498.80,118.90 C501.08,118.43 502.83,117.55 504.20,116.90 C505.57,116.25 506.08,115.72 507.00,115.00 C507.92,114.28 508.57,113.90 509.70,112.60 C510.83,111.30 512.43,109.57 513.80,107.20 C515.17,104.83 516.53,101.93 517.90,98.40 C519.27,94.87 520.62,90.35 522.00,86.00 C523.38,81.65 524.93,76.38 526.20,72.30 C527.47,68.22 528.52,65.32 529.60,61.50 C530.68,57.68 531.68,53.02 532.70,49.40 C533.72,45.78 534.55,42.75 535.70,39.80 C536.85,36.85 538.52,33.48 539.60,31.70 C540.68,29.92 541.38,29.62 542.20,29.10 C543.02,28.58 543.73,28.57 544.50,28.60 C545.27,28.63 545.98,28.75 546.80,29.30 C547.62,29.85 548.48,30.35 549.40,31.90 C550.32,33.45 551.48,35.92 552.30,38.60 C553.12,41.28 553.58,44.60 554.30,48.00 C555.02,51.40 555.78,55.40 556.60,59.00 C557.42,62.60 558.18,65.42 559.20,69.60 C560.22,73.78 561.58,79.02 562.70,84.10 C563.82,89.18 564.83,95.02 565.90,100.10 C566.97,105.18 567.90,110.32 569.10,114.60 C570.30,118.88 571.77,122.73 573.10,125.80 C574.43,128.87 575.63,131.13 577.10,133.00 C578.57,134.87 580.03,136.00 581.90,137.00 C583.77,138.00 585.95,138.53 588.30,139.00 C590.65,139.47 593.38,139.63 596.00,139.80 C598.62,139.97 602.67,139.97 604.00,140.00 L604.00,140.00 L420.00,140.00 Z" fill="#8ed0e4"/>
<g clip-path="url(#crp10)"><path d="M420.00,140.00 C421.47,139.85 426.37,139.37 428.80,139.10 C431.23,138.83 432.42,138.95 434.60,138.40 C436.78,137.85 439.47,136.97 441.90,135.80 C444.33,134.63 446.77,132.75 449.20,131.40 C451.63,130.05 454.07,128.68 456.50,127.70 C458.93,126.72 461.62,126.03 463.80,125.50 C465.98,124.97 467.85,124.78 469.60,124.50 C471.35,124.22 471.95,124.38 474.30,123.80 C476.65,123.22 481.00,121.68 483.70,121.00 C486.40,120.32 487.98,120.05 490.50,119.70 C493.02,119.35 496.52,119.37 498.80,118.90 C501.08,118.43 502.83,117.55 504.20,116.90 C505.57,116.25 506.08,115.72 507.00,115.00 C507.92,114.28 508.57,113.90 509.70,112.60 C510.83,111.30 512.43,109.57 513.80,107.20 C515.17,104.83 516.53,101.93 517.90,98.40 C519.27,94.87 520.62,90.35 522.00,86.00 C523.38,81.65 524.93,76.38 526.20,72.30 C527.47,68.22 528.52,65.32 529.60,61.50 C530.68,57.68 531.68,53.02 532.70,49.40 C533.72,45.78 534.55,42.75 535.70,39.80 C536.85,36.85 538.52,33.48 539.60,31.70 C540.68,29.92 541.38,29.62 542.20,29.10 C543.02,28.58 543.73,28.57 544.50,28.60 C545.27,28.63 545.98,28.75 546.80,29.30 C547.62,29.85 548.48,30.35 549.40,31.90 C550.32,33.45 551.48,35.92 552.30,38.60 C553.12,41.28 553.58,44.60 554.30,48.00 C555.02,51.40 555.78,55.40 556.60,59.00 C557.42,62.60 558.18,65.42 559.20,69.60 C560.22,73.78 561.58,79.02 562.70,84.10 C563.82,89.18 564.83,95.02 565.90,100.10 C566.97,105.18 567.90,110.32 569.10,114.60 C570.30,118.88 571.77,122.73 573.10,125.80 C574.43,128.87 575.63,131.13 577.10,133.00 C578.57,134.87 580.03,136.00 581.90,137.00 C583.77,138.00 585.95,138.53 588.30,139.00 C590.65,139.47 593.38,139.63 596.00,139.80 C598.62,139.97 602.67,139.97 604.00,140.00 L604.00,140.00 L420.00,140.00 Z" fill="#f99a9c"/>
<g clip-path="url(#cap10)">
<line x1="342.3" y1="142.1" x2="420.3" y2="60.0" stroke="#e0606b" stroke-width="1.4" stroke-opacity="0.6"/>
<line x1="359.3" y1="142.1" x2="437.3" y2="60.0" stroke="#e0606b" stroke-width="1.4" stroke-opacity="0.6"/>
<line x1="376.3" y1="142.1" x2="454.3" y2="60.0" stroke="#e0606b" stroke-width="1.4" stroke-opacity="0.6"/>
<line x1="393.3" y1="142.1" x2="471.3" y2="60.0" stroke="#e0606b" stroke-width="1.4" stroke-opacity="0.6"/>
<line x1="410.3" y1="142.1" x2="488.3" y2="60.0" stroke="#e0606b" stroke-width="1.4" stroke-opacity="0.6"/>
<line x1="427.3" y1="142.1" x2="505.3" y2="60.0" stroke="#e0606b" stroke-width="1.4" stroke-opacity="0.6"/>
<line x1="444.3" y1="142.1" x2="522.3" y2="60.0" stroke="#e0606b" stroke-width="1.4" stroke-opacity="0.6"/>
<line x1="461.3" y1="142.1" x2="539.3" y2="60.0" stroke="#e0606b" stroke-width="1.4" stroke-opacity="0.6"/>
<line x1="478.3" y1="142.1" x2="556.3" y2="60.0" stroke="#e0606b" stroke-width="1.4" stroke-opacity="0.6"/>
<line x1="495.3" y1="142.1" x2="573.3" y2="60.0" stroke="#e0606b" stroke-width="1.4" stroke-opacity="0.6"/>
</g></g>
<path d="M420.00,140.00 C421.47,139.85 426.37,139.37 428.80,139.10 C431.23,138.83 432.42,138.95 434.60,138.40 C436.78,137.85 439.47,136.97 441.90,135.80 C444.33,134.63 446.77,132.75 449.20,131.40 C451.63,130.05 454.07,128.68 456.50,127.70 C458.93,126.72 461.62,126.03 463.80,125.50 C465.98,124.97 467.85,124.78 469.60,124.50 C471.35,124.22 471.95,124.38 474.30,123.80 C476.65,123.22 481.00,121.68 483.70,121.00 C486.40,120.32 487.98,120.05 490.50,119.70 C493.02,119.35 496.52,119.37 498.80,118.90 C501.08,118.43 502.83,117.55 504.20,116.90 C505.57,116.25 506.08,115.72 507.00,115.00 C507.92,114.28 508.57,113.90 509.70,112.60 C510.83,111.30 512.43,109.57 513.80,107.20 C515.17,104.83 516.53,101.93 517.90,98.40 C519.27,94.87 520.62,90.35 522.00,86.00 C523.38,81.65 524.93,76.38 526.20,72.30 C527.47,68.22 528.52,65.32 529.60,61.50 C530.68,57.68 531.68,53.02 532.70,49.40 C533.72,45.78 534.55,42.75 535.70,39.80 C536.85,36.85 538.52,33.48 539.60,31.70 C540.68,29.92 541.38,29.62 542.20,29.10 C543.02,28.58 543.73,28.57 544.50,28.60 C545.27,28.63 545.98,28.75 546.80,29.30 C547.62,29.85 548.48,30.35 549.40,31.90 C550.32,33.45 551.48,35.92 552.30,38.60 C553.12,41.28 553.58,44.60 554.30,48.00 C555.02,51.40 555.78,55.40 556.60,59.00 C557.42,62.60 558.18,65.42 559.20,69.60 C560.22,73.78 561.58,79.02 562.70,84.10 C563.82,89.18 564.83,95.02 565.90,100.10 C566.97,105.18 567.90,110.32 569.10,114.60 C570.30,118.88 571.77,122.73 573.10,125.80 C574.43,128.87 575.63,131.13 577.10,133.00 C578.57,134.87 580.03,136.00 581.90,137.00 C583.77,138.00 585.95,138.53 588.30,139.00 C590.65,139.47 593.38,139.63 596.00,139.80 C598.62,139.97 602.67,139.97 604.00,140.00" fill="none" stroke="#2f7594" stroke-width="0.9" stroke-opacity="0.6" clip-path="url(#cbp10)"/>
<path d="M420.00,140.00 C421.47,139.85 426.37,139.37 428.80,139.10 C431.23,138.83 432.42,138.95 434.60,138.40 C436.78,137.85 439.47,136.97 441.90,135.80 C444.33,134.63 446.77,132.75 449.20,131.40 C451.63,130.05 454.07,128.68 456.50,127.70 C458.93,126.72 461.62,126.03 463.80,125.50 C465.98,124.97 467.85,124.78 469.60,124.50 C471.35,124.22 471.95,124.38 474.30,123.80 C476.65,123.22 481.00,121.68 483.70,121.00 C486.40,120.32 487.98,120.05 490.50,119.70 C493.02,119.35 496.52,119.37 498.80,118.90 C501.08,118.43 502.83,117.55 504.20,116.90 C505.57,116.25 506.08,115.72 507.00,115.00 C507.92,114.28 508.57,113.90 509.70,112.60 C510.83,111.30 512.43,109.57 513.80,107.20 C515.17,104.83 516.53,101.93 517.90,98.40 C519.27,94.87 520.62,90.35 522.00,86.00 C523.38,81.65 524.93,76.38 526.20,72.30 C527.47,68.22 528.52,65.32 529.60,61.50 C530.68,57.68 531.68,53.02 532.70,49.40 C533.72,45.78 534.55,42.75 535.70,39.80 C536.85,36.85 538.52,33.48 539.60,31.70 C540.68,29.92 541.38,29.62 542.20,29.10 C543.02,28.58 543.73,28.57 544.50,28.60 C545.27,28.63 545.98,28.75 546.80,29.30 C547.62,29.85 548.48,30.35 549.40,31.90 C550.32,33.45 551.48,35.92 552.30,38.60 C553.12,41.28 553.58,44.60 554.30,48.00 C555.02,51.40 555.78,55.40 556.60,59.00 C557.42,62.60 558.18,65.42 559.20,69.60 C560.22,73.78 561.58,79.02 562.70,84.10 C563.82,89.18 564.83,95.02 565.90,100.10 C566.97,105.18 567.90,110.32 569.10,114.60 C570.30,118.88 571.77,122.73 573.10,125.80 C574.43,128.87 575.63,131.13 577.10,133.00 C578.57,134.87 580.03,136.00 581.90,137.00 C583.77,138.00 585.95,138.53 588.30,139.00 C590.65,139.47 593.38,139.63 596.00,139.80 C598.62,139.97 602.67,139.97 604.00,140.00" fill="none" stroke="#6a5a5a" stroke-width="0.9" stroke-opacity="0.6" clip-path="url(#crp10)"/>
<line x1="474.38" y1="123.78" x2="474.38" y2="140.00" stroke="#fff" stroke-width="2.6"/>
<line x1="474.38" y1="140.00" x2="474.38" y2="123.78" stroke="#000" stroke-width="1.9" stroke-dasharray="5.9,1.6" stroke-dashoffset="0.8"/>
<line x1="380.50" y1="2.90" x2="380.50" y2="140.55" stroke="#2b2b2b" stroke-width="1.1"/>
<line x1="379.95" y1="140.00" x2="664.80" y2="140.00" stroke="#262626" stroke-width="1.45"/>
<line x1="375.90" y1="140.00" x2="380.50" y2="140.00" stroke="#2b2b2b" stroke-width="1.1"/>
<line x1="375.90" y1="97.20" x2="380.50" y2="97.20" stroke="#2b2b2b" stroke-width="1.1"/>
<line x1="375.90" y1="54.40" x2="380.50" y2="54.40" stroke="#2b2b2b" stroke-width="1.1"/>
<line x1="375.90" y1="11.60" x2="380.50" y2="11.60" stroke="#2b2b2b" stroke-width="1.1"/>
<line x1="423.30" y1="140.00" x2="423.30" y2="144.60" stroke="#2b2b2b" stroke-width="1.1"/>
<line x1="487.20" y1="140.00" x2="487.20" y2="144.60" stroke="#2b2b2b" stroke-width="1.1"/>
<line x1="550.50" y1="140.00" x2="550.50" y2="144.60" stroke="#2b2b2b" stroke-width="1.1"/>
<line x1="614.10" y1="140.00" x2="614.10" y2="144.60" stroke="#2b2b2b" stroke-width="1.1"/>
<text x="386.30" y="11.70" font-size="13.2" font-weight="bold" fill="#111" stroke="#111" stroke-width="0.45" font-family="Liberation Sans, sans-serif">São Paulo</text>
<rect x="578.80" y="0.00" width="85.30" height="71.40" fill="#fff"/>
<rect x="585.50" y="22.60" width="21.4" height="48.40" fill="url(#gp10red)"/>
<rect x="636.60" y="9.50" width="21.4" height="34.50" fill="url(#gp10blue)"/>
<line x1="596.20" y1="46.30" x2="647.30" y2="23.30" stroke="#111" stroke-width="1.1" stroke-dasharray="3.5,1.5"/>
<line x1="596.20" y1="20.60" x2="596.20" y2="76.10" stroke="#1e1e1e" stroke-width="1.3"/>
<line x1="596.20" y1="36.50" x2="596.20" y2="51.00" stroke="#1e1e1e" stroke-width="2.2"/>
<circle cx="596.20" cy="46.30" r="3.9" fill="#fff" fill-opacity="0.6"/>
<circle cx="596.20" cy="46.30" r="3.6" fill="#050505"/>
<line x1="647.30" y1="10.90" x2="647.30" y2="38.70" stroke="#1e1e1e" stroke-width="1.3"/>
<line x1="647.30" y1="12.00" x2="647.30" y2="37.00" stroke="#1e1e1e" stroke-width="2.2"/>
<circle cx="647.30" cy="23.30" r="3.9" fill="#fff" fill-opacity="0.6"/>
<circle cx="647.30" cy="23.30" r="3.6" fill="#050505"/>
<path d="M621.70,27.70L621.70,24.60M621.70,27.70L624.65,26.74M621.70,27.70L623.52,30.21M621.70,27.70L619.88,30.21M621.70,27.70L618.75,26.74" stroke="#111" stroke-width="1.5" stroke-linecap="round" fill="none"/>
<line x1="578.80" y1="71.40" x2="664.60" y2="71.40" stroke="#2b2b2b" stroke-width="1"/>
<line x1="664.10" y1="2.90" x2="664.10" y2="71.40" stroke="#2b2b2b" stroke-width="1"/>
<line x1="664.10" y1="69.40" x2="666.90" y2="69.40" stroke="#2b2b2b" stroke-width="0.9"/>
<text x="671.70" y="72.70" font-size="8.9" fill="#2b2b2b" font-family="Liberation Sans, sans-serif">0.0</text>
<line x1="664.10" y1="51.45" x2="666.90" y2="51.45" stroke="#2b2b2b" stroke-width="0.9"/>
<text x="671.70" y="54.75" font-size="8.9" fill="#2b2b2b" font-family="Liberation Sans, sans-serif">0.5</text>
<line x1="664.10" y1="33.50" x2="666.90" y2="33.50" stroke="#2b2b2b" stroke-width="0.9"/>
<text x="671.70" y="36.80" font-size="8.9" fill="#2b2b2b" font-family="Liberation Sans, sans-serif">1.0</text>
<line x1="664.10" y1="15.55" x2="666.90" y2="15.55" stroke="#2b2b2b" stroke-width="0.9"/>
<text x="671.70" y="18.85" font-size="8.9" fill="#2b2b2b" font-family="Liberation Sans, sans-serif">1.5</text>
<line x1="596.20" y1="71.40" x2="596.20" y2="76.00" stroke="#2b2b2b" stroke-width="1.1"/>
<text x="596.20" y="88.10" font-size="8.6" text-anchor="middle" fill="#2b2b2b" font-family="Liberation Sans, sans-serif">&lt;80</text>
<text x="596.20" y="96.90" font-size="8.7" text-anchor="middle" fill="#2b2b2b" font-family="Liberation Sans, sans-serif">mbps</text>
<line x1="647.30" y1="71.40" x2="647.30" y2="76.00" stroke="#2b2b2b" stroke-width="1.1"/>
<text x="647.30" y="88.10" font-size="8.6" text-anchor="middle" fill="#2b2b2b" font-family="Liberation Sans, sans-serif">&gt;80</text>
<text x="647.30" y="96.90" font-size="8.7" text-anchor="middle" fill="#2b2b2b" font-family="Liberation Sans, sans-serif">mbps</text>
<text x="580.50" y="9.95" font-size="8.4" fill="#9a9a9a" textLength="14.6" lengthAdjust="spacingAndGlyphs" font-family="Liberation Sans, sans-serif">RWI</text>
<line x1="40.0" y1="261.50" x2="323.8" y2="261.50" stroke="#d3d3d3" stroke-width="0.8" stroke-dasharray="1.1,0.6"/>
<line x1="40.0" y1="218.70" x2="323.8" y2="218.70" stroke="#d3d3d3" stroke-width="0.8" stroke-dasharray="1.1,0.6"/>
<line x1="40.0" y1="175.90" x2="323.8" y2="175.90" stroke="#d3d3d3" stroke-width="0.8" stroke-dasharray="1.1,0.6"/>
<path d="M120.00,304.30 C121.33,304.28 125.77,304.31 128.00,304.15 C130.23,303.99 131.62,304.02 133.40,303.35 C135.18,302.68 137.03,301.37 138.70,300.15 C140.37,298.93 141.85,297.22 143.40,296.05 C144.95,294.88 146.73,293.77 148.00,293.15 C149.27,292.53 149.83,292.35 151.00,292.35 C152.17,292.35 153.55,292.50 155.00,293.15 C156.45,293.80 158.23,295.42 159.70,296.25 C161.17,297.08 162.43,298.18 163.80,298.15 C165.17,298.12 166.63,297.37 167.90,296.05 C169.17,294.73 170.23,292.62 171.40,290.25 C172.57,287.88 173.73,285.08 174.90,281.85 C176.07,278.62 177.32,275.27 178.40,270.85 C179.48,266.43 180.25,259.77 181.40,255.35 C182.55,250.93 184.15,248.60 185.30,244.35 C186.45,240.10 187.30,234.68 188.30,229.85 C189.30,225.02 190.33,219.40 191.30,215.35 C192.27,211.30 192.85,208.50 194.10,205.55 C195.35,202.60 197.37,200.00 198.80,197.65 C200.23,195.30 201.53,193.80 202.70,191.45 C203.87,189.10 204.78,186.00 205.80,183.55 C206.82,181.10 207.93,178.27 208.80,176.75 C209.67,175.23 210.27,174.48 211.00,174.45 C211.73,174.42 212.57,175.03 213.20,176.55 C213.83,178.07 214.13,180.03 214.80,183.55 C215.47,187.07 216.40,192.68 217.20,197.65 C218.00,202.62 218.80,208.12 219.60,213.35 C220.40,218.58 220.90,223.72 222.00,229.05 C223.10,234.38 225.02,240.17 226.20,245.35 C227.38,250.53 227.98,255.22 229.10,260.15 C230.22,265.08 231.53,270.25 232.90,274.95 C234.27,279.65 235.82,284.75 237.30,288.35 C238.78,291.95 240.07,294.32 241.80,296.55 C243.53,298.78 245.72,300.53 247.70,301.75 C249.68,302.97 251.32,303.43 253.70,303.85 C256.08,304.28 260.62,304.23 262.00,304.30 L262.00,304.30 L120.00,304.30 Z" fill="#8ed0e4"/>
<g clip-path="url(#crp01)"><path d="M120.00,304.30 C121.33,304.28 125.77,304.31 128.00,304.15 C130.23,303.99 131.62,304.02 133.40,303.35 C135.18,302.68 137.03,301.37 138.70,300.15 C140.37,298.93 141.85,297.22 143.40,296.05 C144.95,294.88 146.73,293.77 148.00,293.15 C149.27,292.53 149.83,292.35 151.00,292.35 C152.17,292.35 153.55,292.50 155.00,293.15 C156.45,293.80 158.23,295.42 159.70,296.25 C161.17,297.08 162.43,298.18 163.80,298.15 C165.17,298.12 166.63,297.37 167.90,296.05 C169.17,294.73 170.23,292.62 171.40,290.25 C172.57,287.88 173.73,285.08 174.90,281.85 C176.07,278.62 177.32,275.27 178.40,270.85 C179.48,266.43 180.25,259.77 181.40,255.35 C182.55,250.93 184.15,248.60 185.30,244.35 C186.45,240.10 187.30,234.68 188.30,229.85 C189.30,225.02 190.33,219.40 191.30,215.35 C192.27,211.30 192.85,208.50 194.10,205.55 C195.35,202.60 197.37,200.00 198.80,197.65 C200.23,195.30 201.53,193.80 202.70,191.45 C203.87,189.10 204.78,186.00 205.80,183.55 C206.82,181.10 207.93,178.27 208.80,176.75 C209.67,175.23 210.27,174.48 211.00,174.45 C211.73,174.42 212.57,175.03 213.20,176.55 C213.83,178.07 214.13,180.03 214.80,183.55 C215.47,187.07 216.40,192.68 217.20,197.65 C218.00,202.62 218.80,208.12 219.60,213.35 C220.40,218.58 220.90,223.72 222.00,229.05 C223.10,234.38 225.02,240.17 226.20,245.35 C227.38,250.53 227.98,255.22 229.10,260.15 C230.22,265.08 231.53,270.25 232.90,274.95 C234.27,279.65 235.82,284.75 237.30,288.35 C238.78,291.95 240.07,294.32 241.80,296.55 C243.53,298.78 245.72,300.53 247.70,301.75 C249.68,302.97 251.32,303.43 253.70,303.85 C256.08,304.28 260.62,304.23 262.00,304.30 L262.00,304.30 L120.00,304.30 Z" fill="#f99a9c"/>
<g clip-path="url(#cap01)">
<line x1="-4.0" y1="306.4" x2="74.0" y2="224.3" stroke="#e0606b" stroke-width="1.4" stroke-opacity="0.6"/>
<line x1="13.0" y1="306.4" x2="91.0" y2="224.3" stroke="#e0606b" stroke-width="1.4" stroke-opacity="0.6"/>
<line x1="30.0" y1="306.4" x2="108.0" y2="224.3" stroke="#e0606b" stroke-width="1.4" stroke-opacity="0.6"/>
<line x1="47.0" y1="306.4" x2="125.0" y2="224.3" stroke="#e0606b" stroke-width="1.4" stroke-opacity="0.6"/>
<line x1="64.0" y1="306.4" x2="142.0" y2="224.3" stroke="#e0606b" stroke-width="1.4" stroke-opacity="0.6"/>
<line x1="81.0" y1="306.4" x2="159.0" y2="224.3" stroke="#e0606b" stroke-width="1.4" stroke-opacity="0.6"/>
<line x1="98.0" y1="306.4" x2="176.0" y2="224.3" stroke="#e0606b" stroke-width="1.4" stroke-opacity="0.6"/>
<line x1="115.0" y1="306.4" x2="193.0" y2="224.3" stroke="#e0606b" stroke-width="1.4" stroke-opacity="0.6"/>
<line x1="132.0" y1="306.4" x2="210.0" y2="224.3" stroke="#e0606b" stroke-width="1.4" stroke-opacity="0.6"/>
<line x1="149.0" y1="306.4" x2="227.0" y2="224.3" stroke="#e0606b" stroke-width="1.4" stroke-opacity="0.6"/>
</g></g>
<path d="M120.00,304.30 C121.33,304.28 125.77,304.31 128.00,304.15 C130.23,303.99 131.62,304.02 133.40,303.35 C135.18,302.68 137.03,301.37 138.70,300.15 C140.37,298.93 141.85,297.22 143.40,296.05 C144.95,294.88 146.73,293.77 148.00,293.15 C149.27,292.53 149.83,292.35 151.00,292.35 C152.17,292.35 153.55,292.50 155.00,293.15 C156.45,293.80 158.23,295.42 159.70,296.25 C161.17,297.08 162.43,298.18 163.80,298.15 C165.17,298.12 166.63,297.37 167.90,296.05 C169.17,294.73 170.23,292.62 171.40,290.25 C172.57,287.88 173.73,285.08 174.90,281.85 C176.07,278.62 177.32,275.27 178.40,270.85 C179.48,266.43 180.25,259.77 181.40,255.35 C182.55,250.93 184.15,248.60 185.30,244.35 C186.45,240.10 187.30,234.68 188.30,229.85 C189.30,225.02 190.33,219.40 191.30,215.35 C192.27,211.30 192.85,208.50 194.10,205.55 C195.35,202.60 197.37,200.00 198.80,197.65 C200.23,195.30 201.53,193.80 202.70,191.45 C203.87,189.10 204.78,186.00 205.80,183.55 C206.82,181.10 207.93,178.27 208.80,176.75 C209.67,175.23 210.27,174.48 211.00,174.45 C211.73,174.42 212.57,175.03 213.20,176.55 C213.83,178.07 214.13,180.03 214.80,183.55 C215.47,187.07 216.40,192.68 217.20,197.65 C218.00,202.62 218.80,208.12 219.60,213.35 C220.40,218.58 220.90,223.72 222.00,229.05 C223.10,234.38 225.02,240.17 226.20,245.35 C227.38,250.53 227.98,255.22 229.10,260.15 C230.22,265.08 231.53,270.25 232.90,274.95 C234.27,279.65 235.82,284.75 237.30,288.35 C238.78,291.95 240.07,294.32 241.80,296.55 C243.53,298.78 245.72,300.53 247.70,301.75 C249.68,302.97 251.32,303.43 253.70,303.85 C256.08,304.28 260.62,304.23 262.00,304.30" fill="none" stroke="#2f7594" stroke-width="0.9" stroke-opacity="0.6" clip-path="url(#cbp01)"/>
<path d="M120.00,304.30 C121.33,304.28 125.77,304.31 128.00,304.15 C130.23,303.99 131.62,304.02 133.40,303.35 C135.18,302.68 137.03,301.37 138.70,300.15 C140.37,298.93 141.85,297.22 143.40,296.05 C144.95,294.88 146.73,293.77 148.00,293.15 C149.27,292.53 149.83,292.35 151.00,292.35 C152.17,292.35 153.55,292.50 155.00,293.15 C156.45,293.80 158.23,295.42 159.70,296.25 C161.17,297.08 162.43,298.18 163.80,298.15 C165.17,298.12 166.63,297.37 167.90,296.05 C169.17,294.73 170.23,292.62 171.40,290.25 C172.57,287.88 173.73,285.08 174.90,281.85 C176.07,278.62 177.32,275.27 178.40,270.85 C179.48,266.43 180.25,259.77 181.40,255.35 C182.55,250.93 184.15,248.60 185.30,244.35 C186.45,240.10 187.30,234.68 188.30,229.85 C189.30,225.02 190.33,219.40 191.30,215.35 C192.27,211.30 192.85,208.50 194.10,205.55 C195.35,202.60 197.37,200.00 198.80,197.65 C200.23,195.30 201.53,193.80 202.70,191.45 C203.87,189.10 204.78,186.00 205.80,183.55 C206.82,181.10 207.93,178.27 208.80,176.75 C209.67,175.23 210.27,174.48 211.00,174.45 C211.73,174.42 212.57,175.03 213.20,176.55 C213.83,178.07 214.13,180.03 214.80,183.55 C215.47,187.07 216.40,192.68 217.20,197.65 C218.00,202.62 218.80,208.12 219.60,213.35 C220.40,218.58 220.90,223.72 222.00,229.05 C223.10,234.38 225.02,240.17 226.20,245.35 C227.38,250.53 227.98,255.22 229.10,260.15 C230.22,265.08 231.53,270.25 232.90,274.95 C234.27,279.65 235.82,284.75 237.30,288.35 C238.78,291.95 240.07,294.32 241.80,296.55 C243.53,298.78 245.72,300.53 247.70,301.75 C249.68,302.97 251.32,303.43 253.70,303.85 C256.08,304.28 260.62,304.23 262.00,304.30" fill="none" stroke="#6a5a5a" stroke-width="0.9" stroke-opacity="0.6" clip-path="url(#crp01)"/>
<line x1="133.38" y1="303.35" x2="133.38" y2="304.30" stroke="#fff" stroke-width="2.6"/>
<line x1="133.38" y1="304.30" x2="133.38" y2="302.70" stroke="#000" stroke-width="1.9" stroke-dasharray="5.9,1.6" stroke-dashoffset="0.8"/>
<line x1="39.50" y1="167.20" x2="39.50" y2="304.85" stroke="#2b2b2b" stroke-width="1.1"/>
<line x1="38.95" y1="304.30" x2="323.80" y2="304.30" stroke="#262626" stroke-width="1.45"/>
<line x1="34.90" y1="304.30" x2="39.50" y2="304.30" stroke="#2b2b2b" stroke-width="1.1"/>
<text x="29.6" y="308.55" font-size="11.6" text-anchor="end" fill="#2b2b2b" textLength="27.9" lengthAdjust="spacingAndGlyphs" font-family="Liberation Sans, sans-serif">0.000</text>
<line x1="34.90" y1="261.50" x2="39.50" y2="261.50" stroke="#2b2b2b" stroke-width="1.1"/>
<text x="29.6" y="265.75" font-size="11.6" text-anchor="end" fill="#2b2b2b" textLength="27.9" lengthAdjust="spacingAndGlyphs" font-family="Liberation Sans, sans-serif">0.005</text>
<line x1="34.90" y1="218.70" x2="39.50" y2="218.70" stroke="#2b2b2b" stroke-width="1.1"/>
<text x="29.6" y="222.95" font-size="11.6" text-anchor="end" fill="#2b2b2b" textLength="27.9" lengthAdjust="spacingAndGlyphs" font-family="Liberation Sans, sans-serif">0.010</text>
<line x1="34.90" y1="175.90" x2="39.50" y2="175.90" stroke="#2b2b2b" stroke-width="1.1"/>
<text x="29.6" y="180.15" font-size="11.6" text-anchor="end" fill="#2b2b2b" textLength="27.9" lengthAdjust="spacingAndGlyphs" font-family="Liberation Sans, sans-serif">0.015</text>
<line x1="82.50" y1="304.30" x2="82.50" y2="308.90" stroke="#2b2b2b" stroke-width="1.1"/>
<line x1="146.40" y1="304.30" x2="146.40" y2="308.90" stroke="#2b2b2b" stroke-width="1.1"/>
<line x1="209.70" y1="304.30" x2="209.70" y2="308.90" stroke="#2b2b2b" stroke-width="1.1"/>
<line x1="273.30" y1="304.30" x2="273.30" y2="308.90" stroke="#2b2b2b" stroke-width="1.1"/>
<text x="45.30" y="176.00" font-size="13.2" font-weight="bold" fill="#111" stroke="#111" stroke-width="0.45" font-family="Liberation Sans, sans-serif">Belo Horizonte</text>
<rect x="238.30" y="164.45" width="85.30" height="71.40" fill="#fff"/>
<rect x="296.10" y="175.70" width="21.4" height="34.30" fill="url(#gp01blue)"/>
<line x1="306.80" y1="176.10" x2="306.80" y2="207.60" stroke="#1e1e1e" stroke-width="1.3"/>
<circle cx="306.80" cy="187.70" r="3.9" fill="#fff" fill-opacity="0.6"/>
<circle cx="306.80" cy="187.70" r="3.6" fill="#050505"/>
<line x1="238.30" y1="235.85" x2="324.10" y2="235.85" stroke="#2b2b2b" stroke-width="1"/>
<line x1="323.60" y1="167.35" x2="323.60" y2="235.85" stroke="#2b2b2b" stroke-width="1"/>
<line x1="323.60" y1="233.85" x2="326.40" y2="233.85" stroke="#2b2b2b" stroke-width="0.9"/>
<text x="331.20" y="237.15" font-size="8.9" fill="#2b2b2b" font-family="Liberation Sans, sans-serif">0.0</text>
<line x1="323.60" y1="215.90" x2="326.40" y2="215.90" stroke="#2b2b2b" stroke-width="0.9"/>
<text x="331.20" y="219.20" font-size="8.9" fill="#2b2b2b" font-family="Liberation Sans, sans-serif">0.5</text>
<line x1="323.60" y1="197.95" x2="326.40" y2="197.95" stroke="#2b2b2b" stroke-width="0.9"/>
<text x="331.20" y="201.25" font-size="8.9" fill="#2b2b2b" font-family="Liberation Sans, sans-serif">1.0</text>
<line x1="323.60" y1="180.00" x2="326.40" y2="180.00" stroke="#2b2b2b" stroke-width="0.9"/>
<text x="331.20" y="183.30" font-size="8.9" fill="#2b2b2b" font-family="Liberation Sans, sans-serif">1.5</text>
<line x1="255.70" y1="235.85" x2="255.70" y2="240.45" stroke="#2b2b2b" stroke-width="1.1"/>
<text x="255.70" y="252.55" font-size="8.6" text-anchor="middle" fill="#2b2b2b" font-family="Liberation Sans, sans-serif">&lt;80</text>
<text x="255.70" y="261.35" font-size="8.7" text-anchor="middle" fill="#2b2b2b" font-family="Liberation Sans, sans-serif">mbps</text>
<line x1="306.80" y1="235.85" x2="306.80" y2="240.45" stroke="#2b2b2b" stroke-width="1.1"/>
<text x="306.80" y="252.55" font-size="8.6" text-anchor="middle" fill="#2b2b2b" font-family="Liberation Sans, sans-serif">&gt;80</text>
<text x="306.80" y="261.35" font-size="8.7" text-anchor="middle" fill="#2b2b2b" font-family="Liberation Sans, sans-serif">mbps</text>
<text x="240.00" y="174.40" font-size="8.4" fill="#9a9a9a" textLength="14.6" lengthAdjust="spacingAndGlyphs" font-family="Liberation Sans, sans-serif">RWI</text>
<line x1="381.0" y1="261.50" x2="664.8" y2="261.50" stroke="#d3d3d3" stroke-width="0.8" stroke-dasharray="1.1,0.6"/>
<line x1="381.0" y1="218.70" x2="664.8" y2="218.70" stroke="#d3d3d3" stroke-width="0.8" stroke-dasharray="1.1,0.6"/>
<line x1="381.0" y1="175.90" x2="664.8" y2="175.90" stroke="#d3d3d3" stroke-width="0.8" stroke-dasharray="1.1,0.6"/>
<path d="M418.00,304.30 C420.00,304.24 426.33,304.18 430.00,303.95 C433.67,303.73 437.33,303.45 440.00,302.95 C442.67,302.45 444.00,301.90 446.00,300.95 C448.00,300.00 450.00,298.70 452.00,297.25 C454.00,295.80 456.17,294.08 458.00,292.25 C459.83,290.42 461.52,288.23 463.00,286.25 C464.48,284.27 465.75,282.50 466.90,280.35 C468.05,278.20 469.07,275.52 469.90,273.35 C470.73,271.18 471.20,269.63 471.90,267.35 C472.60,265.07 473.17,262.93 474.10,259.65 C475.03,256.37 476.40,251.48 477.50,247.65 C478.60,243.82 479.65,239.53 480.70,236.65 C481.75,233.77 482.63,231.70 483.80,230.35 C484.97,229.00 486.40,228.55 487.70,228.55 C489.00,228.55 490.17,229.48 491.60,230.35 C493.03,231.22 495.12,233.08 496.30,233.75 C497.48,234.42 497.65,234.78 498.70,234.35 C499.75,233.92 501.17,232.85 502.60,231.15 C504.03,229.45 505.73,226.50 507.30,224.15 C508.87,221.80 510.50,218.62 512.00,217.05 C513.50,215.48 514.87,214.75 516.30,214.75 C517.73,214.75 519.23,215.75 520.60,217.05 C521.97,218.35 523.33,220.33 524.50,222.55 C525.67,224.77 526.40,226.55 527.60,230.35 C528.80,234.15 530.28,240.40 531.70,245.35 C533.12,250.30 534.73,255.12 536.10,260.05 C537.47,264.98 538.53,270.48 539.90,274.95 C541.27,279.42 542.57,283.13 544.30,286.85 C546.03,290.57 548.32,294.65 550.30,297.25 C552.28,299.85 554.23,301.33 556.20,302.45 C558.17,303.57 559.47,303.64 562.10,303.95 C564.73,304.26 570.35,304.24 572.00,304.30 L572.00,304.30 L418.00,304.30 Z" fill="#8ed0e4"/>
<g clip-path="url(#crp11)"><path d="M418.00,304.30 C420.00,304.24 426.33,304.18 430.00,303.95 C433.67,303.73 437.33,303.45 440.00,302.95 C442.67,302.45 444.00,301.90 446.00,300.95 C448.00,300.00 450.00,298.70 452.00,297.25 C454.00,295.80 456.17,294.08 458.00,292.25 C459.83,290.42 461.52,288.23 463.00,286.25 C464.48,284.27 465.75,282.50 466.90,280.35 C468.05,278.20 469.07,275.52 469.90,273.35 C470.73,271.18 471.20,269.63 471.90,267.35 C472.60,265.07 473.17,262.93 474.10,259.65 C475.03,256.37 476.40,251.48 477.50,247.65 C478.60,243.82 479.65,239.53 480.70,236.65 C481.75,233.77 482.63,231.70 483.80,230.35 C484.97,229.00 486.40,228.55 487.70,228.55 C489.00,228.55 490.17,229.48 491.60,230.35 C493.03,231.22 495.12,233.08 496.30,233.75 C497.48,234.42 497.65,234.78 498.70,234.35 C499.75,233.92 501.17,232.85 502.60,231.15 C504.03,229.45 505.73,226.50 507.30,224.15 C508.87,221.80 510.50,218.62 512.00,217.05 C513.50,215.48 514.87,214.75 516.30,214.75 C517.73,214.75 519.23,215.75 520.60,217.05 C521.97,218.35 523.33,220.33 524.50,222.55 C525.67,224.77 526.40,226.55 527.60,230.35 C528.80,234.15 530.28,240.40 531.70,245.35 C533.12,250.30 534.73,255.12 536.10,260.05 C537.47,264.98 538.53,270.48 539.90,274.95 C541.27,279.42 542.57,283.13 544.30,286.85 C546.03,290.57 548.32,294.65 550.30,297.25 C552.28,299.85 554.23,301.33 556.20,302.45 C558.17,303.57 559.47,303.64 562.10,303.95 C564.73,304.26 570.35,304.24 572.00,304.30 L572.00,304.30 L418.00,304.30 Z" fill="#f99a9c"/>
<g clip-path="url(#cap11)">
<line x1="348.2" y1="306.4" x2="426.2" y2="224.3" stroke="#e0606b" stroke-width="1.4" stroke-opacity="0.6"/>
<line x1="365.2" y1="306.4" x2="443.2" y2="224.3" stroke="#e0606b" stroke-width="1.4" stroke-opacity="0.6"/>
<line x1="382.2" y1="306.4" x2="460.2" y2="224.3" stroke="#e0606b" stroke-width="1.4" stroke-opacity="0.6"/>
<line x1="399.2" y1="306.4" x2="477.2" y2="224.3" stroke="#e0606b" stroke-width="1.4" stroke-opacity="0.6"/>
<line x1="416.2" y1="306.4" x2="494.2" y2="224.3" stroke="#e0606b" stroke-width="1.4" stroke-opacity="0.6"/>
<line x1="433.2" y1="306.4" x2="511.2" y2="224.3" stroke="#e0606b" stroke-width="1.4" stroke-opacity="0.6"/>
<line x1="450.2" y1="306.4" x2="528.2" y2="224.3" stroke="#e0606b" stroke-width="1.4" stroke-opacity="0.6"/>
<line x1="467.2" y1="306.4" x2="545.2" y2="224.3" stroke="#e0606b" stroke-width="1.4" stroke-opacity="0.6"/>
<line x1="484.2" y1="306.4" x2="562.2" y2="224.3" stroke="#e0606b" stroke-width="1.4" stroke-opacity="0.6"/>
<line x1="501.2" y1="306.4" x2="579.2" y2="224.3" stroke="#e0606b" stroke-width="1.4" stroke-opacity="0.6"/>
</g></g>
<path d="M418.00,304.30 C420.00,304.24 426.33,304.18 430.00,303.95 C433.67,303.73 437.33,303.45 440.00,302.95 C442.67,302.45 444.00,301.90 446.00,300.95 C448.00,300.00 450.00,298.70 452.00,297.25 C454.00,295.80 456.17,294.08 458.00,292.25 C459.83,290.42 461.52,288.23 463.00,286.25 C464.48,284.27 465.75,282.50 466.90,280.35 C468.05,278.20 469.07,275.52 469.90,273.35 C470.73,271.18 471.20,269.63 471.90,267.35 C472.60,265.07 473.17,262.93 474.10,259.65 C475.03,256.37 476.40,251.48 477.50,247.65 C478.60,243.82 479.65,239.53 480.70,236.65 C481.75,233.77 482.63,231.70 483.80,230.35 C484.97,229.00 486.40,228.55 487.70,228.55 C489.00,228.55 490.17,229.48 491.60,230.35 C493.03,231.22 495.12,233.08 496.30,233.75 C497.48,234.42 497.65,234.78 498.70,234.35 C499.75,233.92 501.17,232.85 502.60,231.15 C504.03,229.45 505.73,226.50 507.30,224.15 C508.87,221.80 510.50,218.62 512.00,217.05 C513.50,215.48 514.87,214.75 516.30,214.75 C517.73,214.75 519.23,215.75 520.60,217.05 C521.97,218.35 523.33,220.33 524.50,222.55 C525.67,224.77 526.40,226.55 527.60,230.35 C528.80,234.15 530.28,240.40 531.70,245.35 C533.12,250.30 534.73,255.12 536.10,260.05 C537.47,264.98 538.53,270.48 539.90,274.95 C541.27,279.42 542.57,283.13 544.30,286.85 C546.03,290.57 548.32,294.65 550.30,297.25 C552.28,299.85 554.23,301.33 556.20,302.45 C558.17,303.57 559.47,303.64 562.10,303.95 C564.73,304.26 570.35,304.24 572.00,304.30" fill="none" stroke="#2f7594" stroke-width="0.9" stroke-opacity="0.6" clip-path="url(#cbp11)"/>
<path d="M418.00,304.30 C420.00,304.24 426.33,304.18 430.00,303.95 C433.67,303.73 437.33,303.45 440.00,302.95 C442.67,302.45 444.00,301.90 446.00,300.95 C448.00,300.00 450.00,298.70 452.00,297.25 C454.00,295.80 456.17,294.08 458.00,292.25 C459.83,290.42 461.52,288.23 463.00,286.25 C464.48,284.27 465.75,282.50 466.90,280.35 C468.05,278.20 469.07,275.52 469.90,273.35 C470.73,271.18 471.20,269.63 471.90,267.35 C472.60,265.07 473.17,262.93 474.10,259.65 C475.03,256.37 476.40,251.48 477.50,247.65 C478.60,243.82 479.65,239.53 480.70,236.65 C481.75,233.77 482.63,231.70 483.80,230.35 C484.97,229.00 486.40,228.55 487.70,228.55 C489.00,228.55 490.17,229.48 491.60,230.35 C493.03,231.22 495.12,233.08 496.30,233.75 C497.48,234.42 497.65,234.78 498.70,234.35 C499.75,233.92 501.17,232.85 502.60,231.15 C504.03,229.45 505.73,226.50 507.30,224.15 C508.87,221.80 510.50,218.62 512.00,217.05 C513.50,215.48 514.87,214.75 516.30,214.75 C517.73,214.75 519.23,215.75 520.60,217.05 C521.97,218.35 523.33,220.33 524.50,222.55 C525.67,224.77 526.40,226.55 527.60,230.35 C528.80,234.15 530.28,240.40 531.70,245.35 C533.12,250.30 534.73,255.12 536.10,260.05 C537.47,264.98 538.53,270.48 539.90,274.95 C541.27,279.42 542.57,283.13 544.30,286.85 C546.03,290.57 548.32,294.65 550.30,297.25 C552.28,299.85 554.23,301.33 556.20,302.45 C558.17,303.57 559.47,303.64 562.10,303.95 C564.73,304.26 570.35,304.24 572.00,304.30" fill="none" stroke="#6a5a5a" stroke-width="0.9" stroke-opacity="0.6" clip-path="url(#crp11)"/>
<line x1="474.38" y1="258.66" x2="474.38" y2="304.30" stroke="#fff" stroke-width="2.6"/>
<line x1="474.38" y1="304.30" x2="474.38" y2="258.66" stroke="#000" stroke-width="1.9" stroke-dasharray="5.9,1.6" stroke-dashoffset="0.8"/>
<line x1="380.50" y1="167.20" x2="380.50" y2="304.85" stroke="#2b2b2b" stroke-width="1.1"/>
<line x1="379.95" y1="304.30" x2="664.80" y2="304.30" stroke="#262626" stroke-width="1.45"/>
<line x1="375.90" y1="304.30" x2="380.50" y2="304.30" stroke="#2b2b2b" stroke-width="1.1"/>
<line x1="375.90" y1="261.50" x2="380.50" y2="261.50" stroke="#2b2b2b" stroke-width="1.1"/>
<line x1="375.90" y1="218.70" x2="380.50" y2="218.70" stroke="#2b2b2b" stroke-width="1.1"/>
<line x1="375.90" y1="175.90" x2="380.50" y2="175.90" stroke="#2b2b2b" stroke-width="1.1"/>
<line x1="423.30" y1="304.30" x2="423.30" y2="308.90" stroke="#2b2b2b" stroke-width="1.1"/>
<line x1="487.20" y1="304.30" x2="487.20" y2="308.90" stroke="#2b2b2b" stroke-width="1.1"/>
<line x1="550.50" y1="304.30" x2="550.50" y2="308.90" stroke="#2b2b2b" stroke-width="1.1"/>
<line x1="614.10" y1="304.30" x2="614.10" y2="308.90" stroke="#2b2b2b" stroke-width="1.1"/>
<text x="386.30" y="176.00" font-size="13.2" font-weight="bold" fill="#111" stroke="#111" stroke-width="0.45" font-family="Liberation Sans, sans-serif">Fortaleza</text>
<rect x="578.80" y="164.45" width="85.30" height="71.40" fill="#fff"/>
<rect x="585.50" y="182.40" width="21.4" height="26.60" fill="url(#gp11red)"/>
<rect x="636.60" y="179.50" width="21.4" height="25.50" fill="url(#gp11blue)"/>
<line x1="596.20" y1="192.50" x2="647.30" y2="189.70" stroke="#111" stroke-width="1.1" stroke-dasharray="3.5,1.5"/>
<line x1="596.20" y1="182.40" x2="596.20" y2="207.60" stroke="#1e1e1e" stroke-width="1.3"/>
<line x1="596.20" y1="182.60" x2="596.20" y2="207.40" stroke="#1e1e1e" stroke-width="2.2"/>
<circle cx="596.20" cy="192.50" r="3.9" fill="#fff" fill-opacity="0.6"/>
<circle cx="596.20" cy="192.50" r="3.6" fill="#050505"/>
<line x1="647.30" y1="179.60" x2="647.30" y2="206.50" stroke="#1e1e1e" stroke-width="1.3"/>
<circle cx="647.30" cy="189.70" r="3.9" fill="#fff" fill-opacity="0.6"/>
<circle cx="647.30" cy="189.70" r="3.6" fill="#050505"/>
<line x1="578.80" y1="235.85" x2="664.60" y2="235.85" stroke="#2b2b2b" stroke-width="1"/>
<line x1="664.10" y1="167.35" x2="664.10" y2="235.85" stroke="#2b2b2b" stroke-width="1"/>
<line x1="664.10" y1="233.85" x2="666.90" y2="233.85" stroke="#2b2b2b" stroke-width="0.9"/>
<text x="671.70" y="237.15" font-size="8.9" fill="#2b2b2b" font-family="Liberation Sans, sans-serif">0.0</text>
<line x1="664.10" y1="215.90" x2="666.90" y2="215.90" stroke="#2b2b2b" stroke-width="0.9"/>
<text x="671.70" y="219.20" font-size="8.9" fill="#2b2b2b" font-family="Liberation Sans, sans-serif">0.5</text>
<line x1="664.10" y1="197.95" x2="666.90" y2="197.95" stroke="#2b2b2b" stroke-width="0.9"/>
<text x="671.70" y="201.25" font-size="8.9" fill="#2b2b2b" font-family="Liberation Sans, sans-serif">1.0</text>
<line x1="664.10" y1="180.00" x2="666.90" y2="180.00" stroke="#2b2b2b" stroke-width="0.9"/>
<text x="671.70" y="183.30" font-size="8.9" fill="#2b2b2b" font-family="Liberation Sans, sans-serif">1.5</text>
<line x1="596.20" y1="235.85" x2="596.20" y2="240.45" stroke="#2b2b2b" stroke-width="1.1"/>
<text x="596.20" y="252.55" font-size="8.6" text-anchor="middle" fill="#2b2b2b" font-family="Liberation Sans, sans-serif">&lt;80</text>
<text x="596.20" y="261.35" font-size="8.7" text-anchor="middle" fill="#2b2b2b" font-family="Liberation Sans, sans-serif">mbps</text>
<line x1="647.30" y1="235.85" x2="647.30" y2="240.45" stroke="#2b2b2b" stroke-width="1.1"/>
<text x="647.30" y="252.55" font-size="8.6" text-anchor="middle" fill="#2b2b2b" font-family="Liberation Sans, sans-serif">&gt;80</text>
<text x="647.30" y="261.35" font-size="8.7" text-anchor="middle" fill="#2b2b2b" font-family="Liberation Sans, sans-serif">mbps</text>
<text x="580.50" y="174.40" font-size="8.4" fill="#9a9a9a" textLength="14.6" lengthAdjust="spacingAndGlyphs" font-family="Liberation Sans, sans-serif">RWI</text>
<line x1="40.0" y1="425.60" x2="323.8" y2="425.60" stroke="#d3d3d3" stroke-width="0.8" stroke-dasharray="1.1,0.6"/>
<line x1="40.0" y1="382.80" x2="323.8" y2="382.80" stroke="#d3d3d3" stroke-width="0.8" stroke-dasharray="1.1,0.6"/>
<line x1="40.0" y1="340.00" x2="323.8" y2="340.00" stroke="#d3d3d3" stroke-width="0.8" stroke-dasharray="1.1,0.6"/>
<path d="M60.00,468.40 C61.75,468.33 67.83,468.13 70.50,468.00 C73.17,467.87 74.42,467.75 76.00,467.60 C77.58,467.45 77.87,467.68 80.00,467.10 C82.13,466.52 85.88,465.18 88.80,464.10 C91.72,463.02 94.58,461.70 97.50,460.60 C100.42,459.50 103.67,458.30 106.30,457.50 C108.93,456.70 111.18,456.15 113.30,455.80 C115.42,455.45 116.88,455.48 119.00,455.40 C121.12,455.32 123.57,455.30 126.00,455.30 C128.43,455.30 130.88,455.32 133.60,455.40 C136.32,455.48 139.57,456.08 142.30,455.80 C145.03,455.52 147.58,454.27 150.00,453.70 C152.42,453.13 154.52,453.08 156.80,452.40 C159.08,451.72 161.42,450.98 163.70,449.60 C165.98,448.22 168.22,446.38 170.50,444.10 C172.78,441.82 175.33,438.63 177.40,435.90 C179.47,433.17 181.30,430.22 182.90,427.70 C184.50,425.18 185.63,423.08 187.00,420.80 C188.37,418.52 189.73,416.28 191.10,414.00 C192.47,411.72 193.83,409.30 195.20,407.10 C196.57,404.90 197.92,402.72 199.30,400.80 C200.68,398.88 202.02,397.07 203.50,395.60 C204.98,394.13 206.83,392.73 208.20,392.00 C209.57,391.27 210.53,391.20 211.70,391.20 C212.87,391.20 213.83,391.27 215.20,392.00 C216.57,392.73 218.33,393.83 219.90,395.60 C221.47,397.37 223.03,399.87 224.60,402.60 C226.17,405.33 227.73,408.83 229.30,412.00 C230.87,415.17 232.55,418.63 234.00,421.60 C235.45,424.57 236.72,427.25 238.00,429.80 C239.28,432.35 240.42,434.40 241.70,436.90 C242.98,439.40 244.38,442.35 245.70,444.80 C247.02,447.25 248.13,449.32 249.60,451.60 C251.07,453.88 252.87,456.53 254.50,458.50 C256.13,460.47 257.78,462.10 259.40,463.40 C261.02,464.70 262.25,465.57 264.20,466.30 C266.15,467.03 268.13,467.45 271.10,467.80 C274.07,468.15 280.18,468.30 282.00,468.40 L282.00,468.40 L60.00,468.40 Z" fill="#8ed0e4"/>
<g clip-path="url(#crp02)"><path d="M60.00,468.40 C61.75,468.33 67.83,468.13 70.50,468.00 C73.17,467.87 74.42,467.75 76.00,467.60 C77.58,467.45 77.87,467.68 80.00,467.10 C82.13,466.52 85.88,465.18 88.80,464.10 C91.72,463.02 94.58,461.70 97.50,460.60 C100.42,459.50 103.67,458.30 106.30,457.50 C108.93,456.70 111.18,456.15 113.30,455.80 C115.42,455.45 116.88,455.48 119.00,455.40 C121.12,455.32 123.57,455.30 126.00,455.30 C128.43,455.30 130.88,455.32 133.60,455.40 C136.32,455.48 139.57,456.08 142.30,455.80 C145.03,455.52 147.58,454.27 150.00,453.70 C152.42,453.13 154.52,453.08 156.80,452.40 C159.08,451.72 161.42,450.98 163.70,449.60 C165.98,448.22 168.22,446.38 170.50,444.10 C172.78,441.82 175.33,438.63 177.40,435.90 C179.47,433.17 181.30,430.22 182.90,427.70 C184.50,425.18 185.63,423.08 187.00,420.80 C188.37,418.52 189.73,416.28 191.10,414.00 C192.47,411.72 193.83,409.30 195.20,407.10 C196.57,404.90 197.92,402.72 199.30,400.80 C200.68,398.88 202.02,397.07 203.50,395.60 C204.98,394.13 206.83,392.73 208.20,392.00 C209.57,391.27 210.53,391.20 211.70,391.20 C212.87,391.20 213.83,391.27 215.20,392.00 C216.57,392.73 218.33,393.83 219.90,395.60 C221.47,397.37 223.03,399.87 224.60,402.60 C226.17,405.33 227.73,408.83 229.30,412.00 C230.87,415.17 232.55,418.63 234.00,421.60 C235.45,424.57 236.72,427.25 238.00,429.80 C239.28,432.35 240.42,434.40 241.70,436.90 C242.98,439.40 244.38,442.35 245.70,444.80 C247.02,447.25 248.13,449.32 249.60,451.60 C251.07,453.88 252.87,456.53 254.50,458.50 C256.13,460.47 257.78,462.10 259.40,463.40 C261.02,464.70 262.25,465.57 264.20,466.30 C266.15,467.03 268.13,467.45 271.10,467.80 C274.07,468.15 280.18,468.30 282.00,468.40 L282.00,468.40 L60.00,468.40 Z" fill="#f99a9c"/>
<g clip-path="url(#cap02)">
<line x1="-1.7" y1="470.5" x2="76.3" y2="388.4" stroke="#e0606b" stroke-width="1.4" stroke-opacity="0.6"/>
<line x1="15.3" y1="470.5" x2="93.3" y2="388.4" stroke="#e0606b" stroke-width="1.4" stroke-opacity="0.6"/>
<line x1="32.3" y1="470.5" x2="110.3" y2="388.4" stroke="#e0606b" stroke-width="1.4" stroke-opacity="0.6"/>
<line x1="49.3" y1="470.5" x2="127.3" y2="388.4" stroke="#e0606b" stroke-width="1.4" stroke-opacity="0.6"/>
<line x1="66.3" y1="470.5" x2="144.3" y2="388.4" stroke="#e0606b" stroke-width="1.4" stroke-opacity="0.6"/>
<line x1="83.3" y1="470.5" x2="161.3" y2="388.4" stroke="#e0606b" stroke-width="1.4" stroke-opacity="0.6"/>
<line x1="100.3" y1="470.5" x2="178.3" y2="388.4" stroke="#e0606b" stroke-width="1.4" stroke-opacity="0.6"/>
<line x1="117.3" y1="470.5" x2="195.3" y2="388.4" stroke="#e0606b" stroke-width="1.4" stroke-opacity="0.6"/>
<line x1="134.3" y1="470.5" x2="212.3" y2="388.4" stroke="#e0606b" stroke-width="1.4" stroke-opacity="0.6"/>
<line x1="151.3" y1="470.5" x2="229.3" y2="388.4" stroke="#e0606b" stroke-width="1.4" stroke-opacity="0.6"/>
</g></g>
<path d="M60.00,468.40 C61.75,468.33 67.83,468.13 70.50,468.00 C73.17,467.87 74.42,467.75 76.00,467.60 C77.58,467.45 77.87,467.68 80.00,467.10 C82.13,466.52 85.88,465.18 88.80,464.10 C91.72,463.02 94.58,461.70 97.50,460.60 C100.42,459.50 103.67,458.30 106.30,457.50 C108.93,456.70 111.18,456.15 113.30,455.80 C115.42,455.45 116.88,455.48 119.00,455.40 C121.12,455.32 123.57,455.30 126.00,455.30 C128.43,455.30 130.88,455.32 133.60,455.40 C136.32,455.48 139.57,456.08 142.30,455.80 C145.03,455.52 147.58,454.27 150.00,453.70 C152.42,453.13 154.52,453.08 156.80,452.40 C159.08,451.72 161.42,450.98 163.70,449.60 C165.98,448.22 168.22,446.38 170.50,444.10 C172.78,441.82 175.33,438.63 177.40,435.90 C179.47,433.17 181.30,430.22 182.90,427.70 C184.50,425.18 185.63,423.08 187.00,420.80 C188.37,418.52 189.73,416.28 191.10,414.00 C192.47,411.72 193.83,409.30 195.20,407.10 C196.57,404.90 197.92,402.72 199.30,400.80 C200.68,398.88 202.02,397.07 203.50,395.60 C204.98,394.13 206.83,392.73 208.20,392.00 C209.57,391.27 210.53,391.20 211.70,391.20 C212.87,391.20 213.83,391.27 215.20,392.00 C216.57,392.73 218.33,393.83 219.90,395.60 C221.47,397.37 223.03,399.87 224.60,402.60 C226.17,405.33 227.73,408.83 229.30,412.00 C230.87,415.17 232.55,418.63 234.00,421.60 C235.45,424.57 236.72,427.25 238.00,429.80 C239.28,432.35 240.42,434.40 241.70,436.90 C242.98,439.40 244.38,442.35 245.70,444.80 C247.02,447.25 248.13,449.32 249.60,451.60 C251.07,453.88 252.87,456.53 254.50,458.50 C256.13,460.47 257.78,462.10 259.40,463.40 C261.02,464.70 262.25,465.57 264.20,466.30 C266.15,467.03 268.13,467.45 271.10,467.80 C274.07,468.15 280.18,468.30 282.00,468.40" fill="none" stroke="#2f7594" stroke-width="0.9" stroke-opacity="0.6" clip-path="url(#cbp02)"/>
<path d="M60.00,468.40 C61.75,468.33 67.83,468.13 70.50,468.00 C73.17,467.87 74.42,467.75 76.00,467.60 C77.58,467.45 77.87,467.68 80.00,467.10 C82.13,466.52 85.88,465.18 88.80,464.10 C91.72,463.02 94.58,461.70 97.50,460.60 C100.42,459.50 103.67,458.30 106.30,457.50 C108.93,456.70 111.18,456.15 113.30,455.80 C115.42,455.45 116.88,455.48 119.00,455.40 C121.12,455.32 123.57,455.30 126.00,455.30 C128.43,455.30 130.88,455.32 133.60,455.40 C136.32,455.48 139.57,456.08 142.30,455.80 C145.03,455.52 147.58,454.27 150.00,453.70 C152.42,453.13 154.52,453.08 156.80,452.40 C159.08,451.72 161.42,450.98 163.70,449.60 C165.98,448.22 168.22,446.38 170.50,444.10 C172.78,441.82 175.33,438.63 177.40,435.90 C179.47,433.17 181.30,430.22 182.90,427.70 C184.50,425.18 185.63,423.08 187.00,420.80 C188.37,418.52 189.73,416.28 191.10,414.00 C192.47,411.72 193.83,409.30 195.20,407.10 C196.57,404.90 197.92,402.72 199.30,400.80 C200.68,398.88 202.02,397.07 203.50,395.60 C204.98,394.13 206.83,392.73 208.20,392.00 C209.57,391.27 210.53,391.20 211.70,391.20 C212.87,391.20 213.83,391.27 215.20,392.00 C216.57,392.73 218.33,393.83 219.90,395.60 C221.47,397.37 223.03,399.87 224.60,402.60 C226.17,405.33 227.73,408.83 229.30,412.00 C230.87,415.17 232.55,418.63 234.00,421.60 C235.45,424.57 236.72,427.25 238.00,429.80 C239.28,432.35 240.42,434.40 241.70,436.90 C242.98,439.40 244.38,442.35 245.70,444.80 C247.02,447.25 248.13,449.32 249.60,451.60 C251.07,453.88 252.87,456.53 254.50,458.50 C256.13,460.47 257.78,462.10 259.40,463.40 C261.02,464.70 262.25,465.57 264.20,466.30 C266.15,467.03 268.13,467.45 271.10,467.80 C274.07,468.15 280.18,468.30 282.00,468.40" fill="none" stroke="#6a5a5a" stroke-width="0.9" stroke-opacity="0.6" clip-path="url(#crp02)"/>
<line x1="133.38" y1="455.40" x2="133.38" y2="468.40" stroke="#fff" stroke-width="2.6"/>
<line x1="133.38" y1="468.40" x2="133.38" y2="455.40" stroke="#000" stroke-width="1.9" stroke-dasharray="5.9,1.6" stroke-dashoffset="0.8"/>
<line x1="39.50" y1="331.30" x2="39.50" y2="468.95" stroke="#2b2b2b" stroke-width="1.1"/>
<line x1="38.95" y1="468.40" x2="323.80" y2="468.40" stroke="#262626" stroke-width="1.45"/>
<line x1="34.90" y1="468.40" x2="39.50" y2="468.40" stroke="#2b2b2b" stroke-width="1.1"/>
<text x="29.6" y="472.65" font-size="11.6" text-anchor="end" fill="#2b2b2b" textLength="27.9" lengthAdjust="spacingAndGlyphs" font-family="Liberation Sans, sans-serif">0.000</text>
<line x1="34.90" y1="425.60" x2="39.50" y2="425.60" stroke="#2b2b2b" stroke-width="1.1"/>
<text x="29.6" y="429.85" font-size="11.6" text-anchor="end" fill="#2b2b2b" textLength="27.9" lengthAdjust="spacingAndGlyphs" font-family="Liberation Sans, sans-serif">0.005</text>
<line x1="34.90" y1="382.80" x2="39.50" y2="382.80" stroke="#2b2b2b" stroke-width="1.1"/>
<text x="29.6" y="387.05" font-size="11.6" text-anchor="end" fill="#2b2b2b" textLength="27.9" lengthAdjust="spacingAndGlyphs" font-family="Liberation Sans, sans-serif">0.010</text>
<line x1="34.90" y1="340.00" x2="39.50" y2="340.00" stroke="#2b2b2b" stroke-width="1.1"/>
<text x="29.6" y="344.25" font-size="11.6" text-anchor="end" fill="#2b2b2b" textLength="27.9" lengthAdjust="spacingAndGlyphs" font-family="Liberation Sans, sans-serif">0.015</text>
<line x1="82.50" y1="468.40" x2="82.50" y2="473.00" stroke="#2b2b2b" stroke-width="1.1"/>
<text x="82.80" y="488.9" font-size="14" text-anchor="middle" fill="#2b2b2b" font-family="Liberation Sans, sans-serif">0</text>
<line x1="146.40" y1="468.40" x2="146.40" y2="473.00" stroke="#2b2b2b" stroke-width="1.1"/>
<text x="146.70" y="488.9" font-size="14" text-anchor="middle" fill="#2b2b2b" font-family="Liberation Sans, sans-serif">100</text>
<line x1="209.70" y1="468.40" x2="209.70" y2="473.00" stroke="#2b2b2b" stroke-width="1.1"/>
<text x="210.00" y="488.9" font-size="14" text-anchor="middle" fill="#2b2b2b" font-family="Liberation Sans, sans-serif">200</text>
<line x1="273.30" y1="468.40" x2="273.30" y2="473.00" stroke="#2b2b2b" stroke-width="1.1"/>
<text x="273.60" y="488.9" font-size="14" text-anchor="middle" fill="#2b2b2b" font-family="Liberation Sans, sans-serif">300</text>
<text x="180.80" y="506" font-size="11.2" text-anchor="middle" fill="#2b2b2b" textLength="121.5" lengthAdjust="spacingAndGlyphs" font-family="Liberation Sans, sans-serif">Download Speed (Mbps)</text>
<text x="45.30" y="340.10" font-size="13.2" font-weight="bold" fill="#111" stroke="#111" stroke-width="0.45" font-family="Liberation Sans, sans-serif">Manaus</text>
<rect x="238.30" y="328.90" width="85.30" height="71.40" fill="#fff"/>
<rect x="245.00" y="360.50" width="21.4" height="26.50" fill="url(#gp02red)"/>
<rect x="296.10" y="340.50" width="21.4" height="42.50" fill="url(#gp02blue)"/>
<line x1="255.70" y1="376.70" x2="306.80" y2="354.80" stroke="#111" stroke-width="1.1" stroke-dasharray="3.5,1.5"/>
<line x1="255.70" y1="361.00" x2="255.70" y2="386.70" stroke="#1e1e1e" stroke-width="1.3"/>
<circle cx="255.70" cy="376.70" r="3.9" fill="#fff" fill-opacity="0.6"/>
<circle cx="255.70" cy="376.70" r="3.6" fill="#050505"/>
<line x1="306.80" y1="340.60" x2="306.80" y2="379.30" stroke="#1e1e1e" stroke-width="1.3"/>
<line x1="306.80" y1="349.10" x2="306.80" y2="358.80" stroke="#1e1e1e" stroke-width="2.2"/>
<circle cx="306.80" cy="354.80" r="3.9" fill="#fff" fill-opacity="0.6"/>
<circle cx="306.80" cy="354.80" r="3.6" fill="#050505"/>
<path d="M281.00,356.40L281.00,353.30M281.00,356.40L283.95,355.44M281.00,356.40L282.82,358.91M281.00,356.40L279.18,358.91M281.00,356.40L278.05,355.44" stroke="#111" stroke-width="1.5" stroke-linecap="round" fill="none"/>
<line x1="238.30" y1="400.30" x2="324.10" y2="400.30" stroke="#2b2b2b" stroke-width="1"/>
<line x1="323.60" y1="331.80" x2="323.60" y2="400.30" stroke="#2b2b2b" stroke-width="1"/>
<line x1="323.60" y1="398.30" x2="326.40" y2="398.30" stroke="#2b2b2b" stroke-width="0.9"/>
<text x="331.20" y="401.60" font-size="8.9" fill="#2b2b2b" font-family="Liberation Sans, sans-serif">0.0</text>
<line x1="323.60" y1="380.35" x2="326.40" y2="380.35" stroke="#2b2b2b" stroke-width="0.9"/>
<text x="331.20" y="383.65" font-size="8.9" fill="#2b2b2b" font-family="Liberation Sans, sans-serif">0.5</text>
<line x1="323.60" y1="362.40" x2="326.40" y2="362.40" stroke="#2b2b2b" stroke-width="0.9"/>
<text x="331.20" y="365.70" font-size="8.9" fill="#2b2b2b" font-family="Liberation Sans, sans-serif">1.0</text>
<line x1="323.60" y1="344.45" x2="326.40" y2="344.45" stroke="#2b2b2b" stroke-width="0.9"/>
<text x="331.20" y="347.75" font-size="8.9" fill="#2b2b2b" font-family="Liberation Sans, sans-serif">1.5</text>
<line x1="255.70" y1="400.30" x2="255.70" y2="404.90" stroke="#2b2b2b" stroke-width="1.1"/>
<text x="255.70" y="417.00" font-size="8.6" text-anchor="middle" fill="#2b2b2b" font-family="Liberation Sans, sans-serif">&lt;80</text>
<text x="255.70" y="425.80" font-size="8.7" text-anchor="middle" fill="#2b2b2b" font-family="Liberation Sans, sans-serif">mbps</text>
<line x1="306.80" y1="400.30" x2="306.80" y2="404.90" stroke="#2b2b2b" stroke-width="1.1"/>
<text x="306.80" y="417.00" font-size="8.6" text-anchor="middle" fill="#2b2b2b" font-family="Liberation Sans, sans-serif">&gt;80</text>
<text x="306.80" y="425.80" font-size="8.7" text-anchor="middle" fill="#2b2b2b" font-family="Liberation Sans, sans-serif">mbps</text>
<text x="240.00" y="338.85" font-size="8.4" fill="#9a9a9a" textLength="14.6" lengthAdjust="spacingAndGlyphs" font-family="Liberation Sans, sans-serif">RWI</text>
<line x1="381.0" y1="425.60" x2="664.8" y2="425.60" stroke="#d3d3d3" stroke-width="0.8" stroke-dasharray="1.1,0.6"/>
<line x1="381.0" y1="382.80" x2="664.8" y2="382.80" stroke="#d3d3d3" stroke-width="0.8" stroke-dasharray="1.1,0.6"/>
<line x1="381.0" y1="340.00" x2="664.8" y2="340.00" stroke="#d3d3d3" stroke-width="0.8" stroke-dasharray="1.1,0.6"/>
<path d="M415.00,468.40 C416.80,468.33 422.08,468.30 425.80,468.00 C429.52,467.70 434.17,467.32 437.30,466.60 C440.43,465.88 442.17,464.68 444.60,463.70 C447.03,462.72 449.47,461.73 451.90,460.70 C454.33,459.67 456.77,458.47 459.20,457.50 C461.63,456.53 464.07,455.70 466.50,454.90 C468.93,454.10 471.33,453.55 473.80,452.70 C476.27,451.85 478.83,450.62 481.30,449.80 C483.77,448.98 486.17,448.37 488.60,447.80 C491.03,447.23 493.47,446.97 495.90,446.40 C498.33,445.83 501.18,445.02 503.20,444.40 C505.22,443.78 506.53,443.38 508.00,442.70 C509.47,442.02 510.60,441.33 512.00,440.30 C513.40,439.27 515.07,437.73 516.40,436.50 C517.73,435.27 518.38,434.65 520.00,432.90 C521.62,431.15 524.02,428.10 526.10,426.00 C528.18,423.90 530.37,421.88 532.50,420.30 C534.63,418.72 536.77,417.67 538.90,416.50 C541.03,415.33 543.15,414.28 545.30,413.30 C547.45,412.32 549.65,411.60 551.80,410.60 C553.95,409.60 556.33,408.03 558.20,407.30 C560.07,406.57 561.40,406.27 563.00,406.20 C564.60,406.13 566.20,406.30 567.80,406.90 C569.40,407.50 571.00,408.25 572.60,409.80 C574.20,411.35 575.78,413.80 577.40,416.20 C579.02,418.60 580.82,421.68 582.30,424.20 C583.78,426.72 584.70,428.28 586.30,431.30 C587.90,434.32 590.02,439.05 591.90,442.30 C593.78,445.55 595.72,448.23 597.60,450.80 C599.48,453.37 601.08,455.68 603.20,457.70 C605.32,459.72 607.95,461.53 610.30,462.90 C612.65,464.27 614.95,465.10 617.30,465.90 C619.65,466.70 621.62,467.28 624.40,467.70 C627.18,468.12 632.40,468.28 634.00,468.40 L634.00,468.40 L415.00,468.40 Z" fill="#8ed0e4"/>
<g clip-path="url(#crp12)"><path d="M415.00,468.40 C416.80,468.33 422.08,468.30 425.80,468.00 C429.52,467.70 434.17,467.32 437.30,466.60 C440.43,465.88 442.17,464.68 444.60,463.70 C447.03,462.72 449.47,461.73 451.90,460.70 C454.33,459.67 456.77,458.47 459.20,457.50 C461.63,456.53 464.07,455.70 466.50,454.90 C468.93,454.10 471.33,453.55 473.80,452.70 C476.27,451.85 478.83,450.62 481.30,449.80 C483.77,448.98 486.17,448.37 488.60,447.80 C491.03,447.23 493.47,446.97 495.90,446.40 C498.33,445.83 501.18,445.02 503.20,444.40 C505.22,443.78 506.53,443.38 508.00,442.70 C509.47,442.02 510.60,441.33 512.00,440.30 C513.40,439.27 515.07,437.73 516.40,436.50 C517.73,435.27 518.38,434.65 520.00,432.90 C521.62,431.15 524.02,428.10 526.10,426.00 C528.18,423.90 530.37,421.88 532.50,420.30 C534.63,418.72 536.77,417.67 538.90,416.50 C541.03,415.33 543.15,414.28 545.30,413.30 C547.45,412.32 549.65,411.60 551.80,410.60 C553.95,409.60 556.33,408.03 558.20,407.30 C560.07,406.57 561.40,406.27 563.00,406.20 C564.60,406.13 566.20,406.30 567.80,406.90 C569.40,407.50 571.00,408.25 572.60,409.80 C574.20,411.35 575.78,413.80 577.40,416.20 C579.02,418.60 580.82,421.68 582.30,424.20 C583.78,426.72 584.70,428.28 586.30,431.30 C587.90,434.32 590.02,439.05 591.90,442.30 C593.78,445.55 595.72,448.23 597.60,450.80 C599.48,453.37 601.08,455.68 603.20,457.70 C605.32,459.72 607.95,461.53 610.30,462.90 C612.65,464.27 614.95,465.10 617.30,465.90 C619.65,466.70 621.62,467.28 624.40,467.70 C627.18,468.12 632.40,468.28 634.00,468.40 L634.00,468.40 L415.00,468.40 Z" fill="#f99a9c"/>
<g clip-path="url(#cap12)">
<line x1="350.8" y1="470.5" x2="428.8" y2="388.4" stroke="#e0606b" stroke-width="1.4" stroke-opacity="0.6"/>
<line x1="367.8" y1="470.5" x2="445.8" y2="388.4" stroke="#e0606b" stroke-width="1.4" stroke-opacity="0.6"/>
<line x1="384.8" y1="470.5" x2="462.8" y2="388.4" stroke="#e0606b" stroke-width="1.4" stroke-opacity="0.6"/>
<line x1="401.8" y1="470.5" x2="479.8" y2="388.4" stroke="#e0606b" stroke-width="1.4" stroke-opacity="0.6"/>
<line x1="418.8" y1="470.5" x2="496.8" y2="388.4" stroke="#e0606b" stroke-width="1.4" stroke-opacity="0.6"/>
<line x1="435.8" y1="470.5" x2="513.8" y2="388.4" stroke="#e0606b" stroke-width="1.4" stroke-opacity="0.6"/>
<line x1="452.8" y1="470.5" x2="530.8" y2="388.4" stroke="#e0606b" stroke-width="1.4" stroke-opacity="0.6"/>
<line x1="469.8" y1="470.5" x2="547.8" y2="388.4" stroke="#e0606b" stroke-width="1.4" stroke-opacity="0.6"/>
<line x1="486.8" y1="470.5" x2="564.8" y2="388.4" stroke="#e0606b" stroke-width="1.4" stroke-opacity="0.6"/>
<line x1="503.8" y1="470.5" x2="581.8" y2="388.4" stroke="#e0606b" stroke-width="1.4" stroke-opacity="0.6"/>
</g></g>
<path d="M415.00,468.40 C416.80,468.33 422.08,468.30 425.80,468.00 C429.52,467.70 434.17,467.32 437.30,466.60 C440.43,465.88 442.17,464.68 444.60,463.70 C447.03,462.72 449.47,461.73 451.90,460.70 C454.33,459.67 456.77,458.47 459.20,457.50 C461.63,456.53 464.07,455.70 466.50,454.90 C468.93,454.10 471.33,453.55 473.80,452.70 C476.27,451.85 478.83,450.62 481.30,449.80 C483.77,448.98 486.17,448.37 488.60,447.80 C491.03,447.23 493.47,446.97 495.90,446.40 C498.33,445.83 501.18,445.02 503.20,444.40 C505.22,443.78 506.53,443.38 508.00,442.70 C509.47,442.02 510.60,441.33 512.00,440.30 C513.40,439.27 515.07,437.73 516.40,436.50 C517.73,435.27 518.38,434.65 520.00,432.90 C521.62,431.15 524.02,428.10 526.10,426.00 C528.18,423.90 530.37,421.88 532.50,420.30 C534.63,418.72 536.77,417.67 538.90,416.50 C541.03,415.33 543.15,414.28 545.30,413.30 C547.45,412.32 549.65,411.60 551.80,410.60 C553.95,409.60 556.33,408.03 558.20,407.30 C560.07,406.57 561.40,406.27 563.00,406.20 C564.60,406.13 566.20,406.30 567.80,406.90 C569.40,407.50 571.00,408.25 572.60,409.80 C574.20,411.35 575.78,413.80 577.40,416.20 C579.02,418.60 580.82,421.68 582.30,424.20 C583.78,426.72 584.70,428.28 586.30,431.30 C587.90,434.32 590.02,439.05 591.90,442.30 C593.78,445.55 595.72,448.23 597.60,450.80 C599.48,453.37 601.08,455.68 603.20,457.70 C605.32,459.72 607.95,461.53 610.30,462.90 C612.65,464.27 614.95,465.10 617.30,465.90 C619.65,466.70 621.62,467.28 624.40,467.70 C627.18,468.12 632.40,468.28 634.00,468.40" fill="none" stroke="#2f7594" stroke-width="0.9" stroke-opacity="0.6" clip-path="url(#cbp12)"/>
<path d="M415.00,468.40 C416.80,468.33 422.08,468.30 425.80,468.00 C429.52,467.70 434.17,467.32 437.30,466.60 C440.43,465.88 442.17,464.68 444.60,463.70 C447.03,462.72 449.47,461.73 451.90,460.70 C454.33,459.67 456.77,458.47 459.20,457.50 C461.63,456.53 464.07,455.70 466.50,454.90 C468.93,454.10 471.33,453.55 473.80,452.70 C476.27,451.85 478.83,450.62 481.30,449.80 C483.77,448.98 486.17,448.37 488.60,447.80 C491.03,447.23 493.47,446.97 495.90,446.40 C498.33,445.83 501.18,445.02 503.20,444.40 C505.22,443.78 506.53,443.38 508.00,442.70 C509.47,442.02 510.60,441.33 512.00,440.30 C513.40,439.27 515.07,437.73 516.40,436.50 C517.73,435.27 518.38,434.65 520.00,432.90 C521.62,431.15 524.02,428.10 526.10,426.00 C528.18,423.90 530.37,421.88 532.50,420.30 C534.63,418.72 536.77,417.67 538.90,416.50 C541.03,415.33 543.15,414.28 545.30,413.30 C547.45,412.32 549.65,411.60 551.80,410.60 C553.95,409.60 556.33,408.03 558.20,407.30 C560.07,406.57 561.40,406.27 563.00,406.20 C564.60,406.13 566.20,406.30 567.80,406.90 C569.40,407.50 571.00,408.25 572.60,409.80 C574.20,411.35 575.78,413.80 577.40,416.20 C579.02,418.60 580.82,421.68 582.30,424.20 C583.78,426.72 584.70,428.28 586.30,431.30 C587.90,434.32 590.02,439.05 591.90,442.30 C593.78,445.55 595.72,448.23 597.60,450.80 C599.48,453.37 601.08,455.68 603.20,457.70 C605.32,459.72 607.95,461.53 610.30,462.90 C612.65,464.27 614.95,465.10 617.30,465.90 C619.65,466.70 621.62,467.28 624.40,467.70 C627.18,468.12 632.40,468.28 634.00,468.40" fill="none" stroke="#6a5a5a" stroke-width="0.9" stroke-opacity="0.6" clip-path="url(#crp12)"/>
<line x1="474.38" y1="452.48" x2="474.38" y2="468.40" stroke="#fff" stroke-width="2.6"/>
<line x1="474.38" y1="468.40" x2="474.38" y2="452.48" stroke="#000" stroke-width="1.9" stroke-dasharray="5.9,1.6" stroke-dashoffset="0.8"/>
<line x1="380.50" y1="331.30" x2="380.50" y2="468.95" stroke="#2b2b2b" stroke-width="1.1"/>
<line x1="379.95" y1="468.40" x2="664.80" y2="468.40" stroke="#262626" stroke-width="1.45"/>
<line x1="375.90" y1="468.40" x2="380.50" y2="468.40" stroke="#2b2b2b" stroke-width="1.1"/>
<line x1="375.90" y1="425.60" x2="380.50" y2="425.60" stroke="#2b2b2b" stroke-width="1.1"/>
<line x1="375.90" y1="382.80" x2="380.50" y2="382.80" stroke="#2b2b2b" stroke-width="1.1"/>
<line x1="375.90" y1="340.00" x2="380.50" y2="340.00" stroke="#2b2b2b" stroke-width="1.1"/>
<line x1="423.30" y1="468.40" x2="423.30" y2="473.00" stroke="#2b2b2b" stroke-width="1.1"/>
<text x="423.60" y="488.9" font-size="14" text-anchor="middle" fill="#2b2b2b" font-family="Liberation Sans, sans-serif">0</text>
<line x1="487.20" y1="468.40" x2="487.20" y2="473.00" stroke="#2b2b2b" stroke-width="1.1"/>
<text x="487.50" y="488.9" font-size="14" text-anchor="middle" fill="#2b2b2b" font-family="Liberation Sans, sans-serif">100</text>
<line x1="550.50" y1="468.40" x2="550.50" y2="473.00" stroke="#2b2b2b" stroke-width="1.1"/>
<text x="550.80" y="488.9" font-size="14" text-anchor="middle" fill="#2b2b2b" font-family="Liberation Sans, sans-serif">200</text>
<line x1="614.10" y1="468.40" x2="614.10" y2="473.00" stroke="#2b2b2b" stroke-width="1.1"/>
<text x="614.40" y="488.9" font-size="14" text-anchor="middle" fill="#2b2b2b" font-family="Liberation Sans, sans-serif">300</text>
<text x="521.80" y="506" font-size="11.2" text-anchor="middle" fill="#2b2b2b" textLength="121.5" lengthAdjust="spacingAndGlyphs" font-family="Liberation Sans, sans-serif">Download Speed (Mbps)</text>
<text x="386.30" y="340.10" font-size="13.2" font-weight="bold" fill="#111" stroke="#111" stroke-width="0.45" font-family="Liberation Sans, sans-serif">Brasília</text>
<rect x="578.80" y="328.90" width="85.30" height="71.40" fill="#fff"/>
<rect x="585.50" y="346.00" width="21.4" height="50.00" fill="url(#gp12red)"/>
<rect x="636.60" y="349.00" width="21.4" height="47.00" fill="url(#gp12blue)"/>
<line x1="596.20" y1="372.00" x2="647.30" y2="365.30" stroke="#111" stroke-width="1.1" stroke-dasharray="3.5,1.5"/>
<line x1="596.20" y1="346.50" x2="596.20" y2="395.20" stroke="#1e1e1e" stroke-width="1.3"/>
<line x1="596.20" y1="375.30" x2="596.20" y2="391.70" stroke="#1e1e1e" stroke-width="2.2"/>
<circle cx="596.20" cy="372.00" r="3.9" fill="#fff" fill-opacity="0.6"/>
<circle cx="596.20" cy="372.00" r="3.6" fill="#050505"/>
<line x1="647.30" y1="344.10" x2="647.30" y2="395.20" stroke="#1e1e1e" stroke-width="1.3"/>
<line x1="647.30" y1="356.50" x2="647.30" y2="378.80" stroke="#1e1e1e" stroke-width="2.2"/>
<circle cx="647.30" cy="365.30" r="3.9" fill="#fff" fill-opacity="0.6"/>
<circle cx="647.30" cy="365.30" r="3.6" fill="#050505"/>
<line x1="578.80" y1="400.30" x2="664.60" y2="400.30" stroke="#2b2b2b" stroke-width="1"/>
<line x1="664.10" y1="331.80" x2="664.10" y2="400.30" stroke="#2b2b2b" stroke-width="1"/>
<line x1="664.10" y1="398.30" x2="666.90" y2="398.30" stroke="#2b2b2b" stroke-width="0.9"/>
<text x="671.70" y="401.60" font-size="8.9" fill="#2b2b2b" font-family="Liberation Sans, sans-serif">0.0</text>
<line x1="664.10" y1="380.35" x2="666.90" y2="380.35" stroke="#2b2b2b" stroke-width="0.9"/>
<text x="671.70" y="383.65" font-size="8.9" fill="#2b2b2b" font-family="Liberation Sans, sans-serif">0.5</text>
<line x1="664.10" y1="362.40" x2="666.90" y2="362.40" stroke="#2b2b2b" stroke-width="0.9"/>
<text x="671.70" y="365.70" font-size="8.9" fill="#2b2b2b" font-family="Liberation Sans, sans-serif">1.0</text>
<line x1="664.10" y1="344.45" x2="666.90" y2="344.45" stroke="#2b2b2b" stroke-width="0.9"/>
<text x="671.70" y="347.75" font-size="8.9" fill="#2b2b2b" font-family="Liberation Sans, sans-serif">1.5</text>
<line x1="596.20" y1="400.30" x2="596.20" y2="404.90" stroke="#2b2b2b" stroke-width="1.1"/>
<text x="596.20" y="417.00" font-size="8.6" text-anchor="middle" fill="#2b2b2b" font-family="Liberation Sans, sans-serif">&lt;80</text>
<text x="596.20" y="425.80" font-size="8.7" text-anchor="middle" fill="#2b2b2b" font-family="Liberation Sans, sans-serif">mbps</text>
<line x1="647.30" y1="400.30" x2="647.30" y2="404.90" stroke="#2b2b2b" stroke-width="1.1"/>
<text x="647.30" y="417.00" font-size="8.6" text-anchor="middle" fill="#2b2b2b" font-family="Liberation Sans, sans-serif">&gt;80</text>
<text x="647.30" y="425.80" font-size="8.7" text-anchor="middle" fill="#2b2b2b" font-family="Liberation Sans, sans-serif">mbps</text>
<text x="580.50" y="338.85" font-size="8.4" fill="#9a9a9a" textLength="14.6" lengthAdjust="spacingAndGlyphs" font-family="Liberation Sans, sans-serif">RWI</text>
</svg>
</body></html>
